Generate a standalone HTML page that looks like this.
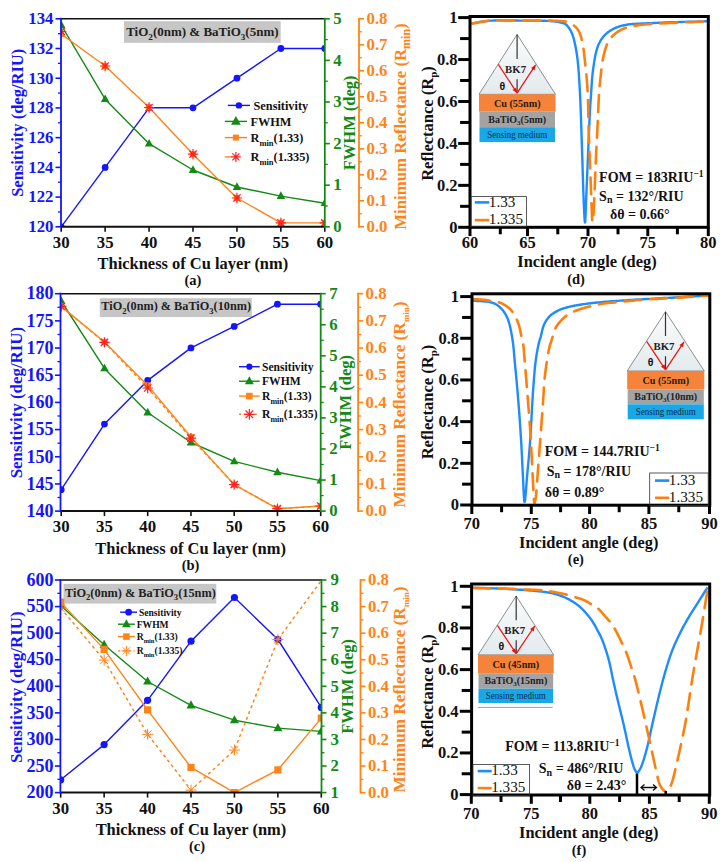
<!DOCTYPE html>
<html><head><meta charset="utf-8"><style>html,body{margin:0;padding:0;background:#fff;width:725px;height:862px;overflow:hidden}svg{display:block}</style></head><body>
<svg width="725" height="862" viewBox="0 0 725 862" style="font-family:'Liberation Serif',serif;font-weight:bold">
<defs><linearGradient id="prismg" x1="0" y1="0" x2="0" y2="1"><stop offset="0" stop-color="#fbfcfc"/><stop offset="1" stop-color="#e3eaed"/></linearGradient></defs>
<rect width="725" height="862" fill="#fff"/>
<rect x="124" y="21.2" width="156.7" height="21.6" fill="#c6c6c6"/>
<text x="126.2" y="35.6" font-size="13" fill="#222" font-weight="bold">TiO<tspan font-size="9.1" dy="3.9">2</tspan><tspan dy="-3.9">(0nm) &amp; BaTiO</tspan><tspan font-size="9.1" dy="3.9">3</tspan><tspan dy="-3.9">(5nm)</tspan></text>
<clipPath id="clipa"><rect x="61" y="18.8" width="263.8" height="208"/></clipPath>
<g clip-path="url(#clipa)">
<polyline points="61.2,226.8 105.13,167.4 149.07,107.8 193,107.8 236.93,78.2 280.87,48.5 324.8,48.5" fill="none" stroke="#1414ff" stroke-width="1.4" stroke-linejoin="round" />
<circle cx="61.2" cy="226.8" r="3.4" fill="#1414ff"/>
<circle cx="105.13" cy="167.4" r="3.4" fill="#1414ff"/>
<circle cx="149.07" cy="107.8" r="3.4" fill="#1414ff"/>
<circle cx="193" cy="107.8" r="3.4" fill="#1414ff"/>
<circle cx="236.93" cy="78.2" r="3.4" fill="#1414ff"/>
<circle cx="280.87" cy="48.5" r="3.4" fill="#1414ff"/>
<circle cx="324.8" cy="48.5" r="3.4" fill="#1414ff"/>
<polyline points="61.2,25 105.13,99.2 149.07,143.7 193,170 236.93,187 280.87,196.1 324.8,203.2" fill="none" stroke="#138a13" stroke-width="1.4" stroke-linejoin="round" />
<polygon points="61.2,20.26 56.95,27.91 65.45,27.91" fill="#138a13"/>
<polygon points="105.13,94.46 100.88,102.11 109.38,102.11" fill="#138a13"/>
<polygon points="149.07,138.96 144.82,146.61 153.32,146.61" fill="#138a13"/>
<polygon points="193,165.26 188.75,172.91 197.25,172.91" fill="#138a13"/>
<polygon points="236.93,182.26 232.68,189.91 241.18,189.91" fill="#138a13"/>
<polygon points="280.87,191.36 276.62,199.01 285.12,199.01" fill="#138a13"/>
<polygon points="324.8,198.46 320.55,206.11 329.05,206.11" fill="#138a13"/>
<polyline points="61.2,34.1 105.13,66 149.07,107.5 193,154.2 236.93,198 280.87,222.9 324.8,222.9" fill="none" stroke="#ff8418" stroke-width="1.4" stroke-linejoin="round" />
<rect x="58.1" y="31" width="6.2" height="6.2" fill="#ff8418"/>
<rect x="102.03" y="62.9" width="6.2" height="6.2" fill="#ff8418"/>
<rect x="145.97" y="104.4" width="6.2" height="6.2" fill="#ff8418"/>
<rect x="189.9" y="151.1" width="6.2" height="6.2" fill="#ff8418"/>
<rect x="233.83" y="194.9" width="6.2" height="6.2" fill="#ff8418"/>
<rect x="277.77" y="219.8" width="6.2" height="6.2" fill="#ff8418"/>
<rect x="321.7" y="219.8" width="6.2" height="6.2" fill="#ff8418"/>
<path d="M56,31.5L66.4,31.5M57.52,27.82L64.88,35.18M61.2,26.3L61.2,36.7M64.88,27.82L57.52,35.18" stroke="#ff2020" stroke-width="1.2" fill="none"/>
<path d="M99.93,66L110.33,66M101.46,62.32L108.81,69.68M105.13,60.8L105.13,71.2M108.81,62.32L101.46,69.68" stroke="#ff2020" stroke-width="1.2" fill="none"/>
<path d="M143.87,107.5L154.27,107.5M145.39,103.82L152.74,111.18M149.07,102.3L149.07,112.7M152.74,103.82L145.39,111.18" stroke="#ff2020" stroke-width="1.2" fill="none"/>
<path d="M187.8,154.2L198.2,154.2M189.32,150.52L196.68,157.88M193,149L193,159.4M196.68,150.52L189.32,157.88" stroke="#ff2020" stroke-width="1.2" fill="none"/>
<path d="M231.73,198L242.13,198M233.26,194.32L240.61,201.68M236.93,192.8L236.93,203.2M240.61,194.32L233.26,201.68" stroke="#ff2020" stroke-width="1.2" fill="none"/>
<path d="M275.67,222.9L286.07,222.9M277.19,219.22L284.54,226.58M280.87,217.7L280.87,228.1M284.54,219.22L277.19,226.58" stroke="#ff2020" stroke-width="1.2" fill="none"/>
<path d="M319.6,222.9L330,222.9M321.12,219.22L328.48,226.58M324.8,217.7L324.8,228.1M328.48,219.22L321.12,226.58" stroke="#ff2020" stroke-width="1.2" fill="none"/>
</g>
<line x1="61" y1="18.8" x2="324.8" y2="18.8" stroke="#111" stroke-width="1.6" />
<line x1="61" y1="226.8" x2="324.8" y2="226.8" stroke="#111" stroke-width="2" />
<line x1="61.2" y1="226.8" x2="61.2" y2="231.8" stroke="#111" stroke-width="1.6" />
<text x="61.2" y="248.1" font-size="16.8" fill="#111" text-anchor="middle" font-weight="bold" >30</text>
<line x1="105.13" y1="226.8" x2="105.13" y2="231.8" stroke="#111" stroke-width="1.6" />
<text x="105.13" y="248.1" font-size="16.8" fill="#111" text-anchor="middle" font-weight="bold" >35</text>
<line x1="149.07" y1="226.8" x2="149.07" y2="231.8" stroke="#111" stroke-width="1.6" />
<text x="149.07" y="248.1" font-size="16.8" fill="#111" text-anchor="middle" font-weight="bold" >40</text>
<line x1="193" y1="226.8" x2="193" y2="231.8" stroke="#111" stroke-width="1.6" />
<text x="193" y="248.1" font-size="16.8" fill="#111" text-anchor="middle" font-weight="bold" >45</text>
<line x1="236.93" y1="226.8" x2="236.93" y2="231.8" stroke="#111" stroke-width="1.6" />
<text x="236.93" y="248.1" font-size="16.8" fill="#111" text-anchor="middle" font-weight="bold" >50</text>
<line x1="280.87" y1="226.8" x2="280.87" y2="231.8" stroke="#111" stroke-width="1.6" />
<text x="280.87" y="248.1" font-size="16.8" fill="#111" text-anchor="middle" font-weight="bold" >55</text>
<line x1="324.8" y1="226.8" x2="324.8" y2="231.8" stroke="#111" stroke-width="1.6" />
<text x="324.8" y="248.1" font-size="16.8" fill="#111" text-anchor="middle" font-weight="bold" >60</text>
<line x1="61" y1="17.8" x2="61" y2="227.8" stroke="#1414ff" stroke-width="1.8" />
<line x1="55.5" y1="226.8" x2="61" y2="226.8" stroke="#1414ff" stroke-width="1.6" />
<text x="53.5" y="232.18" font-size="16.8" fill="#1414ff" text-anchor="end" font-weight="bold" >120</text>
<line x1="55.5" y1="197.09" x2="61" y2="197.09" stroke="#1414ff" stroke-width="1.6" />
<text x="53.5" y="202.46" font-size="16.8" fill="#1414ff" text-anchor="end" font-weight="bold" >122</text>
<line x1="55.5" y1="167.37" x2="61" y2="167.37" stroke="#1414ff" stroke-width="1.6" />
<text x="53.5" y="172.75" font-size="16.8" fill="#1414ff" text-anchor="end" font-weight="bold" >124</text>
<line x1="55.5" y1="137.66" x2="61" y2="137.66" stroke="#1414ff" stroke-width="1.6" />
<text x="53.5" y="143.03" font-size="16.8" fill="#1414ff" text-anchor="end" font-weight="bold" >126</text>
<line x1="55.5" y1="107.94" x2="61" y2="107.94" stroke="#1414ff" stroke-width="1.6" />
<text x="53.5" y="113.32" font-size="16.8" fill="#1414ff" text-anchor="end" font-weight="bold" >128</text>
<line x1="55.5" y1="78.23" x2="61" y2="78.23" stroke="#1414ff" stroke-width="1.6" />
<text x="53.5" y="83.6" font-size="16.8" fill="#1414ff" text-anchor="end" font-weight="bold" >130</text>
<line x1="55.5" y1="48.51" x2="61" y2="48.51" stroke="#1414ff" stroke-width="1.6" />
<text x="53.5" y="53.89" font-size="16.8" fill="#1414ff" text-anchor="end" font-weight="bold" >132</text>
<line x1="55.5" y1="18.8" x2="61" y2="18.8" stroke="#1414ff" stroke-width="1.6" />
<text x="53.5" y="24.18" font-size="16.8" fill="#1414ff" text-anchor="end" font-weight="bold" >134</text>
<line x1="58" y1="211.94" x2="61" y2="211.94" stroke="#1414ff" stroke-width="1.3" />
<line x1="58" y1="182.23" x2="61" y2="182.23" stroke="#1414ff" stroke-width="1.3" />
<line x1="58" y1="152.51" x2="61" y2="152.51" stroke="#1414ff" stroke-width="1.3" />
<line x1="58" y1="122.8" x2="61" y2="122.8" stroke="#1414ff" stroke-width="1.3" />
<line x1="58" y1="93.09" x2="61" y2="93.09" stroke="#1414ff" stroke-width="1.3" />
<line x1="58" y1="63.37" x2="61" y2="63.37" stroke="#1414ff" stroke-width="1.3" />
<line x1="58" y1="33.66" x2="61" y2="33.66" stroke="#1414ff" stroke-width="1.3" />
<line x1="324.8" y1="17.8" x2="324.8" y2="227.8" stroke="#138a13" stroke-width="1.8" />
<line x1="324.8" y1="226.8" x2="329.8" y2="226.8" stroke="#138a13" stroke-width="1.6" />
<text x="333.2" y="232" font-size="16.8" fill="#138a13" text-anchor="start" font-weight="bold" >0</text>
<line x1="324.8" y1="185.2" x2="329.8" y2="185.2" stroke="#138a13" stroke-width="1.6" />
<text x="333.2" y="190.4" font-size="16.8" fill="#138a13" text-anchor="start" font-weight="bold" >1</text>
<line x1="324.8" y1="143.6" x2="329.8" y2="143.6" stroke="#138a13" stroke-width="1.6" />
<text x="333.2" y="148.8" font-size="16.8" fill="#138a13" text-anchor="start" font-weight="bold" >2</text>
<line x1="324.8" y1="102" x2="329.8" y2="102" stroke="#138a13" stroke-width="1.6" />
<text x="333.2" y="107.2" font-size="16.8" fill="#138a13" text-anchor="start" font-weight="bold" >3</text>
<line x1="324.8" y1="60.4" x2="329.8" y2="60.4" stroke="#138a13" stroke-width="1.6" />
<text x="333.2" y="65.6" font-size="16.8" fill="#138a13" text-anchor="start" font-weight="bold" >4</text>
<line x1="324.8" y1="18.8" x2="329.8" y2="18.8" stroke="#138a13" stroke-width="1.6" />
<text x="333.2" y="24" font-size="16.8" fill="#138a13" text-anchor="start" font-weight="bold" >5</text>
<line x1="324.8" y1="206" x2="327.8" y2="206" stroke="#138a13" stroke-width="1.3" />
<line x1="324.8" y1="164.4" x2="327.8" y2="164.4" stroke="#138a13" stroke-width="1.3" />
<line x1="324.8" y1="122.8" x2="327.8" y2="122.8" stroke="#138a13" stroke-width="1.3" />
<line x1="324.8" y1="81.2" x2="327.8" y2="81.2" stroke="#138a13" stroke-width="1.3" />
<line x1="324.8" y1="39.6" x2="327.8" y2="39.6" stroke="#138a13" stroke-width="1.3" />
<line x1="359" y1="17.8" x2="359" y2="227.8" stroke="#ff8418" stroke-width="1.8" />
<line x1="359" y1="226.8" x2="364" y2="226.8" stroke="#ff8418" stroke-width="1.6" />
<text x="366.5" y="232" font-size="16.8" fill="#ff8418" text-anchor="start" font-weight="bold" >0.0</text>
<line x1="359" y1="200.8" x2="364" y2="200.8" stroke="#ff8418" stroke-width="1.6" />
<text x="366.5" y="206" font-size="16.8" fill="#ff8418" text-anchor="start" font-weight="bold" >0.1</text>
<line x1="359" y1="174.8" x2="364" y2="174.8" stroke="#ff8418" stroke-width="1.6" />
<text x="366.5" y="180" font-size="16.8" fill="#ff8418" text-anchor="start" font-weight="bold" >0.2</text>
<line x1="359" y1="148.8" x2="364" y2="148.8" stroke="#ff8418" stroke-width="1.6" />
<text x="366.5" y="154" font-size="16.8" fill="#ff8418" text-anchor="start" font-weight="bold" >0.3</text>
<line x1="359" y1="122.8" x2="364" y2="122.8" stroke="#ff8418" stroke-width="1.6" />
<text x="366.5" y="128" font-size="16.8" fill="#ff8418" text-anchor="start" font-weight="bold" >0.4</text>
<line x1="359" y1="96.8" x2="364" y2="96.8" stroke="#ff8418" stroke-width="1.6" />
<text x="366.5" y="102" font-size="16.8" fill="#ff8418" text-anchor="start" font-weight="bold" >0.5</text>
<line x1="359" y1="70.8" x2="364" y2="70.8" stroke="#ff8418" stroke-width="1.6" />
<text x="366.5" y="76" font-size="16.8" fill="#ff8418" text-anchor="start" font-weight="bold" >0.6</text>
<line x1="359" y1="44.8" x2="364" y2="44.8" stroke="#ff8418" stroke-width="1.6" />
<text x="366.5" y="50" font-size="16.8" fill="#ff8418" text-anchor="start" font-weight="bold" >0.7</text>
<line x1="359" y1="18.8" x2="364" y2="18.8" stroke="#ff8418" stroke-width="1.6" />
<text x="366.5" y="24" font-size="16.8" fill="#ff8418" text-anchor="start" font-weight="bold" >0.8</text>
<line x1="359" y1="213.8" x2="362" y2="213.8" stroke="#ff8418" stroke-width="1.3" />
<line x1="359" y1="187.8" x2="362" y2="187.8" stroke="#ff8418" stroke-width="1.3" />
<line x1="359" y1="161.8" x2="362" y2="161.8" stroke="#ff8418" stroke-width="1.3" />
<line x1="359" y1="135.8" x2="362" y2="135.8" stroke="#ff8418" stroke-width="1.3" />
<line x1="359" y1="109.8" x2="362" y2="109.8" stroke="#ff8418" stroke-width="1.3" />
<line x1="359" y1="83.8" x2="362" y2="83.8" stroke="#ff8418" stroke-width="1.3" />
<line x1="359" y1="57.8" x2="362" y2="57.8" stroke="#ff8418" stroke-width="1.3" />
<line x1="359" y1="31.8" x2="362" y2="31.8" stroke="#ff8418" stroke-width="1.3" />
<text x="23.3" y="122.8" font-size="16.5" fill="#1414ff" font-weight="bold" text-anchor="middle" transform="rotate(-90 23.3 122.8)">Sensitivity (deg/RIU)</text>
<text x="355.5" y="122.8" font-size="16.5" fill="#138a13" font-weight="bold" text-anchor="middle" transform="rotate(-90 355.5 122.8)">FWHM (deg)</text>
<text x="405.5" y="126.5" font-size="16.8" fill="#ff8418" font-weight="bold" text-anchor="middle" transform="rotate(-90 405.5 126.5)">Minimum Reflectance (R<tspan font-size="12" dy="4">min</tspan><tspan dy="-4">)</tspan></text>
<text x="192.9" y="269.3" font-size="16.45" fill="#111" text-anchor="middle" font-weight="bold" >Thickness of Cu layer (nm)</text>
<text x="192.9" y="285.3" font-size="14.5" fill="#111" text-anchor="middle" font-weight="bold" >(a)</text>
<line x1="227.8" y1="105.4" x2="250" y2="105.4" stroke="#1414ff" stroke-width="1.4" />
<circle cx="238.9" cy="105.4" r="3.2" fill="#1414ff"/>
<line x1="224.8" y1="121.4" x2="247" y2="121.4" stroke="#138a13" stroke-width="1.4" />
<polygon points="235.9,115.99 231.05,124.72 240.75,124.72" fill="#138a13"/>
<line x1="224.8" y1="137.6" x2="247" y2="137.6" stroke="#ff8418" stroke-width="1.4" />
<rect x="232.9" y="134.6" width="6" height="6" fill="#ff8418"/>
<line x1="224.8" y1="156.9" x2="231.4" y2="156.9" stroke="#ff8418" stroke-width="1.4" />
<path d="M230.9,156.9L240.9,156.9M232.36,153.36L239.44,160.44M235.9,151.9L235.9,161.9M239.44,153.36L232.36,160.44" stroke="#ff2020" stroke-width="1.2" fill="none"/>
<text x="253.5" y="109.83" font-size="12.3" fill="#111" text-anchor="start" font-weight="bold" >Sensitivity</text>
<text x="250.5" y="125.83" font-size="12.3" fill="#111" text-anchor="start" font-weight="bold" >FWHM</text>
<text x="250.5" y="142.03" font-size="12.3" fill="#111" font-weight="bold">R<tspan font-size="8.5" dy="3.69">min</tspan><tspan dy="-3.69">(1.33)</tspan></text>
<text x="250.5" y="161.33" font-size="12.3" fill="#111" font-weight="bold">R<tspan font-size="8.5" dy="3.69">min</tspan><tspan dy="-3.69">(1.335)</tspan></text>
<rect x="99.8" y="298.2" width="152" height="18.8" fill="#c6c6c6"/>
<text x="101.3" y="310.2" font-size="12.25" fill="#222" font-weight="bold">TiO<tspan font-size="8.57" dy="3.67">2</tspan><tspan dy="-3.67">(0nm) &amp; BaTiO</tspan><tspan font-size="8.57" dy="3.67">3</tspan><tspan dy="-3.67">(10nm)</tspan></text>
<clipPath id="clipb"><rect x="60.5" y="293.7" width="260.2" height="217.4"/></clipPath>
<g clip-path="url(#clipb)">
<polyline points="61.2,489.7 104.45,424.1 147.7,380.4 190.95,347.9 234.2,326.4 277.45,304.2 320.7,304.2" fill="none" stroke="#1414ff" stroke-width="1.4" stroke-linejoin="round" />
<circle cx="61.2" cy="489.7" r="3.4" fill="#1414ff"/>
<circle cx="104.45" cy="424.1" r="3.4" fill="#1414ff"/>
<circle cx="147.7" cy="380.4" r="3.4" fill="#1414ff"/>
<circle cx="190.95" cy="347.9" r="3.4" fill="#1414ff"/>
<circle cx="234.2" cy="326.4" r="3.4" fill="#1414ff"/>
<circle cx="277.45" cy="304.2" r="3.4" fill="#1414ff"/>
<circle cx="320.7" cy="304.2" r="3.4" fill="#1414ff"/>
<polyline points="61.2,301 104.45,368.4 147.7,412.5 190.95,442.5 234.2,461.4 277.45,472.3 320.7,480.6" fill="none" stroke="#138a13" stroke-width="1.4" stroke-linejoin="round" />
<polygon points="61.2,296.26 56.95,303.91 65.45,303.91" fill="#138a13"/>
<polygon points="104.45,363.66 100.2,371.31 108.7,371.31" fill="#138a13"/>
<polygon points="147.7,407.76 143.45,415.41 151.95,415.41" fill="#138a13"/>
<polygon points="190.95,437.76 186.7,445.41 195.2,445.41" fill="#138a13"/>
<polygon points="234.2,456.66 229.95,464.31 238.45,464.31" fill="#138a13"/>
<polygon points="277.45,467.56 273.2,475.21 281.7,475.21" fill="#138a13"/>
<polygon points="320.7,475.86 316.45,483.51 324.95,483.51" fill="#138a13"/>
<polyline points="61.2,306.4 104.45,342 147.7,385.4 190.95,437 234.2,484.6 277.45,508.7 320.7,506" fill="none" stroke="#ff8418" stroke-width="1.4" stroke-linejoin="round" />
<rect x="58.1" y="303.3" width="6.2" height="6.2" fill="#ff8418"/>
<rect x="101.35" y="338.9" width="6.2" height="6.2" fill="#ff8418"/>
<rect x="144.6" y="382.3" width="6.2" height="6.2" fill="#ff8418"/>
<rect x="187.85" y="433.9" width="6.2" height="6.2" fill="#ff8418"/>
<rect x="231.1" y="481.5" width="6.2" height="6.2" fill="#ff8418"/>
<rect x="274.35" y="505.6" width="6.2" height="6.2" fill="#ff8418"/>
<rect x="317.6" y="502.9" width="6.2" height="6.2" fill="#ff8418"/>
<polyline points="61.2,306.4 104.45,342.4 147.7,388 190.95,438.2 234.2,484.6 277.45,508.7 320.7,506" fill="none" stroke="#ff8418" stroke-width="1.5" stroke-linejoin="round" stroke-dasharray="3,3.2"/>
<path d="M56,306.4L66.4,306.4M57.52,302.72L64.88,310.08M61.2,301.2L61.2,311.6M64.88,302.72L57.52,310.08" stroke="#ff2020" stroke-width="1.2" fill="none"/>
<path d="M99.25,342.4L109.65,342.4M100.77,338.72L108.13,346.08M104.45,337.2L104.45,347.6M108.13,338.72L100.77,346.08" stroke="#ff2020" stroke-width="1.2" fill="none"/>
<path d="M142.5,388L152.9,388M144.02,384.32L151.38,391.68M147.7,382.8L147.7,393.2M151.38,384.32L144.02,391.68" stroke="#ff2020" stroke-width="1.2" fill="none"/>
<path d="M185.75,438.2L196.15,438.2M187.27,434.52L194.63,441.88M190.95,433L190.95,443.4M194.63,434.52L187.27,441.88" stroke="#ff2020" stroke-width="1.2" fill="none"/>
<path d="M229,484.6L239.4,484.6M230.52,480.92L237.88,488.28M234.2,479.4L234.2,489.8M237.88,480.92L230.52,488.28" stroke="#ff2020" stroke-width="1.2" fill="none"/>
<path d="M272.25,508.7L282.65,508.7M273.77,505.02L281.13,512.38M277.45,503.5L277.45,513.9M281.13,505.02L273.77,512.38" stroke="#ff2020" stroke-width="1.2" fill="none"/>
<path d="M315.5,506L325.9,506M317.02,502.32L324.38,509.68M320.7,500.8L320.7,511.2M324.38,502.32L317.02,509.68" stroke="#ff2020" stroke-width="1.2" fill="none"/>
</g>
<line x1="60.5" y1="293.7" x2="320.7" y2="293.7" stroke="#111" stroke-width="1.6" />
<line x1="60.5" y1="511.1" x2="320.7" y2="511.1" stroke="#111" stroke-width="2" />
<line x1="61.2" y1="511.1" x2="61.2" y2="516.1" stroke="#111" stroke-width="1.6" />
<text x="61.2" y="532.4" font-size="16.8" fill="#111" text-anchor="middle" font-weight="bold" >30</text>
<line x1="104.45" y1="511.1" x2="104.45" y2="516.1" stroke="#111" stroke-width="1.6" />
<text x="104.45" y="532.4" font-size="16.8" fill="#111" text-anchor="middle" font-weight="bold" >35</text>
<line x1="147.7" y1="511.1" x2="147.7" y2="516.1" stroke="#111" stroke-width="1.6" />
<text x="147.7" y="532.4" font-size="16.8" fill="#111" text-anchor="middle" font-weight="bold" >40</text>
<line x1="190.95" y1="511.1" x2="190.95" y2="516.1" stroke="#111" stroke-width="1.6" />
<text x="190.95" y="532.4" font-size="16.8" fill="#111" text-anchor="middle" font-weight="bold" >45</text>
<line x1="234.2" y1="511.1" x2="234.2" y2="516.1" stroke="#111" stroke-width="1.6" />
<text x="234.2" y="532.4" font-size="16.8" fill="#111" text-anchor="middle" font-weight="bold" >50</text>
<line x1="277.45" y1="511.1" x2="277.45" y2="516.1" stroke="#111" stroke-width="1.6" />
<text x="277.45" y="532.4" font-size="16.8" fill="#111" text-anchor="middle" font-weight="bold" >55</text>
<line x1="320.7" y1="511.1" x2="320.7" y2="516.1" stroke="#111" stroke-width="1.6" />
<text x="320.7" y="532.4" font-size="16.8" fill="#111" text-anchor="middle" font-weight="bold" >60</text>
<line x1="60.5" y1="292.7" x2="60.5" y2="512.1" stroke="#1414ff" stroke-width="1.8" />
<line x1="55" y1="511.1" x2="60.5" y2="511.1" stroke="#1414ff" stroke-width="1.6" />
<text x="53.5" y="516.86" font-size="18" fill="#1414ff" text-anchor="end" font-weight="bold" >140</text>
<line x1="55" y1="483.93" x2="60.5" y2="483.93" stroke="#1414ff" stroke-width="1.6" />
<text x="53.5" y="489.69" font-size="18" fill="#1414ff" text-anchor="end" font-weight="bold" >145</text>
<line x1="55" y1="456.75" x2="60.5" y2="456.75" stroke="#1414ff" stroke-width="1.6" />
<text x="53.5" y="462.51" font-size="18" fill="#1414ff" text-anchor="end" font-weight="bold" >150</text>
<line x1="55" y1="429.58" x2="60.5" y2="429.58" stroke="#1414ff" stroke-width="1.6" />
<text x="53.5" y="435.34" font-size="18" fill="#1414ff" text-anchor="end" font-weight="bold" >155</text>
<line x1="55" y1="402.4" x2="60.5" y2="402.4" stroke="#1414ff" stroke-width="1.6" />
<text x="53.5" y="408.16" font-size="18" fill="#1414ff" text-anchor="end" font-weight="bold" >160</text>
<line x1="55" y1="375.23" x2="60.5" y2="375.23" stroke="#1414ff" stroke-width="1.6" />
<text x="53.5" y="380.99" font-size="18" fill="#1414ff" text-anchor="end" font-weight="bold" >165</text>
<line x1="55" y1="348.05" x2="60.5" y2="348.05" stroke="#1414ff" stroke-width="1.6" />
<text x="53.5" y="353.81" font-size="18" fill="#1414ff" text-anchor="end" font-weight="bold" >170</text>
<line x1="55" y1="320.88" x2="60.5" y2="320.88" stroke="#1414ff" stroke-width="1.6" />
<text x="53.5" y="326.63" font-size="18" fill="#1414ff" text-anchor="end" font-weight="bold" >175</text>
<line x1="55" y1="293.7" x2="60.5" y2="293.7" stroke="#1414ff" stroke-width="1.6" />
<text x="53.5" y="299.46" font-size="18" fill="#1414ff" text-anchor="end" font-weight="bold" >180</text>
<line x1="57.5" y1="497.51" x2="60.5" y2="497.51" stroke="#1414ff" stroke-width="1.3" />
<line x1="57.5" y1="470.34" x2="60.5" y2="470.34" stroke="#1414ff" stroke-width="1.3" />
<line x1="57.5" y1="443.16" x2="60.5" y2="443.16" stroke="#1414ff" stroke-width="1.3" />
<line x1="57.5" y1="415.99" x2="60.5" y2="415.99" stroke="#1414ff" stroke-width="1.3" />
<line x1="57.5" y1="388.81" x2="60.5" y2="388.81" stroke="#1414ff" stroke-width="1.3" />
<line x1="57.5" y1="361.64" x2="60.5" y2="361.64" stroke="#1414ff" stroke-width="1.3" />
<line x1="57.5" y1="334.46" x2="60.5" y2="334.46" stroke="#1414ff" stroke-width="1.3" />
<line x1="57.5" y1="307.29" x2="60.5" y2="307.29" stroke="#1414ff" stroke-width="1.3" />
<line x1="320.7" y1="292.7" x2="320.7" y2="512.1" stroke="#138a13" stroke-width="1.8" />
<line x1="320.7" y1="511.1" x2="325.7" y2="511.1" stroke="#138a13" stroke-width="1.6" />
<text x="329.2" y="516.3" font-size="16.8" fill="#138a13" text-anchor="start" font-weight="bold" >0</text>
<line x1="320.7" y1="480.04" x2="325.7" y2="480.04" stroke="#138a13" stroke-width="1.6" />
<text x="329.2" y="485.24" font-size="16.8" fill="#138a13" text-anchor="start" font-weight="bold" >1</text>
<line x1="320.7" y1="448.99" x2="325.7" y2="448.99" stroke="#138a13" stroke-width="1.6" />
<text x="329.2" y="454.19" font-size="16.8" fill="#138a13" text-anchor="start" font-weight="bold" >2</text>
<line x1="320.7" y1="417.93" x2="325.7" y2="417.93" stroke="#138a13" stroke-width="1.6" />
<text x="329.2" y="423.13" font-size="16.8" fill="#138a13" text-anchor="start" font-weight="bold" >3</text>
<line x1="320.7" y1="386.87" x2="325.7" y2="386.87" stroke="#138a13" stroke-width="1.6" />
<text x="329.2" y="392.07" font-size="16.8" fill="#138a13" text-anchor="start" font-weight="bold" >4</text>
<line x1="320.7" y1="355.81" x2="325.7" y2="355.81" stroke="#138a13" stroke-width="1.6" />
<text x="329.2" y="361.01" font-size="16.8" fill="#138a13" text-anchor="start" font-weight="bold" >5</text>
<line x1="320.7" y1="324.76" x2="325.7" y2="324.76" stroke="#138a13" stroke-width="1.6" />
<text x="329.2" y="329.96" font-size="16.8" fill="#138a13" text-anchor="start" font-weight="bold" >6</text>
<line x1="320.7" y1="293.7" x2="325.7" y2="293.7" stroke="#138a13" stroke-width="1.6" />
<text x="329.2" y="298.9" font-size="16.8" fill="#138a13" text-anchor="start" font-weight="bold" >7</text>
<line x1="320.7" y1="495.57" x2="323.7" y2="495.57" stroke="#138a13" stroke-width="1.3" />
<line x1="320.7" y1="464.51" x2="323.7" y2="464.51" stroke="#138a13" stroke-width="1.3" />
<line x1="320.7" y1="433.46" x2="323.7" y2="433.46" stroke="#138a13" stroke-width="1.3" />
<line x1="320.7" y1="402.4" x2="323.7" y2="402.4" stroke="#138a13" stroke-width="1.3" />
<line x1="320.7" y1="371.34" x2="323.7" y2="371.34" stroke="#138a13" stroke-width="1.3" />
<line x1="320.7" y1="340.29" x2="323.7" y2="340.29" stroke="#138a13" stroke-width="1.3" />
<line x1="320.7" y1="309.23" x2="323.7" y2="309.23" stroke="#138a13" stroke-width="1.3" />
<line x1="358.1" y1="292.7" x2="358.1" y2="512.1" stroke="#ff8418" stroke-width="1.8" />
<line x1="358.1" y1="511.1" x2="363.1" y2="511.1" stroke="#ff8418" stroke-width="1.6" />
<text x="365.6" y="516.3" font-size="16.8" fill="#ff8418" text-anchor="start" font-weight="bold" >0.0</text>
<line x1="358.1" y1="483.93" x2="363.1" y2="483.93" stroke="#ff8418" stroke-width="1.6" />
<text x="365.6" y="489.12" font-size="16.8" fill="#ff8418" text-anchor="start" font-weight="bold" >0.1</text>
<line x1="358.1" y1="456.75" x2="363.1" y2="456.75" stroke="#ff8418" stroke-width="1.6" />
<text x="365.6" y="461.95" font-size="16.8" fill="#ff8418" text-anchor="start" font-weight="bold" >0.2</text>
<line x1="358.1" y1="429.58" x2="363.1" y2="429.58" stroke="#ff8418" stroke-width="1.6" />
<text x="365.6" y="434.78" font-size="16.8" fill="#ff8418" text-anchor="start" font-weight="bold" >0.3</text>
<line x1="358.1" y1="402.4" x2="363.1" y2="402.4" stroke="#ff8418" stroke-width="1.6" />
<text x="365.6" y="407.6" font-size="16.8" fill="#ff8418" text-anchor="start" font-weight="bold" >0.4</text>
<line x1="358.1" y1="375.23" x2="363.1" y2="375.23" stroke="#ff8418" stroke-width="1.6" />
<text x="365.6" y="380.43" font-size="16.8" fill="#ff8418" text-anchor="start" font-weight="bold" >0.5</text>
<line x1="358.1" y1="348.05" x2="363.1" y2="348.05" stroke="#ff8418" stroke-width="1.6" />
<text x="365.6" y="353.25" font-size="16.8" fill="#ff8418" text-anchor="start" font-weight="bold" >0.6</text>
<line x1="358.1" y1="320.88" x2="363.1" y2="320.88" stroke="#ff8418" stroke-width="1.6" />
<text x="365.6" y="326.07" font-size="16.8" fill="#ff8418" text-anchor="start" font-weight="bold" >0.7</text>
<line x1="358.1" y1="293.7" x2="363.1" y2="293.7" stroke="#ff8418" stroke-width="1.6" />
<text x="365.6" y="298.9" font-size="16.8" fill="#ff8418" text-anchor="start" font-weight="bold" >0.8</text>
<line x1="358.1" y1="497.51" x2="361.1" y2="497.51" stroke="#ff8418" stroke-width="1.3" />
<line x1="358.1" y1="470.34" x2="361.1" y2="470.34" stroke="#ff8418" stroke-width="1.3" />
<line x1="358.1" y1="443.16" x2="361.1" y2="443.16" stroke="#ff8418" stroke-width="1.3" />
<line x1="358.1" y1="415.99" x2="361.1" y2="415.99" stroke="#ff8418" stroke-width="1.3" />
<line x1="358.1" y1="388.81" x2="361.1" y2="388.81" stroke="#ff8418" stroke-width="1.3" />
<line x1="358.1" y1="361.64" x2="361.1" y2="361.64" stroke="#ff8418" stroke-width="1.3" />
<line x1="358.1" y1="334.46" x2="361.1" y2="334.46" stroke="#ff8418" stroke-width="1.3" />
<line x1="358.1" y1="307.29" x2="361.1" y2="307.29" stroke="#ff8418" stroke-width="1.3" />
<text x="21.8" y="402.6" font-size="16.9" fill="#1414ff" font-weight="bold" text-anchor="middle" transform="rotate(-90 21.8 402.6)">Sensitivity (deg/RIU)</text>
<text x="351.5" y="402.4" font-size="16.5" fill="#138a13" font-weight="bold" text-anchor="middle" transform="rotate(-90 351.5 402.4)">FWHM (deg)</text>
<text x="404.5" y="404.5" font-size="17.2" fill="#ff8418" font-weight="bold" text-anchor="middle" transform="rotate(-90 404.5 404.5)">Minimum Reflectance (R<tspan font-size="9" dy="4">min</tspan><tspan dy="-4">)</tspan></text>
<text x="190.6" y="553.6" font-size="16.45" fill="#111" text-anchor="middle" font-weight="bold" >Thickness of Cu layer (nm)</text>
<text x="190.6" y="569.6" font-size="14.5" fill="#111" text-anchor="middle" font-weight="bold" >(b)</text>
<line x1="239" y1="366.7" x2="259.7" y2="366.7" stroke="#1414ff" stroke-width="1.4" />
<circle cx="249.35" cy="366.7" r="3.1" fill="#1414ff"/>
<line x1="239" y1="381.2" x2="259.7" y2="381.2" stroke="#138a13" stroke-width="1.4" />
<polygon points="249.35,376.18 244.85,384.28 253.85,384.28" fill="#138a13"/>
<line x1="239" y1="396.1" x2="259.7" y2="396.1" stroke="#ff8418" stroke-width="1.4" />
<rect x="246.05" y="392.8" width="6.6" height="6.6" fill="#ff8418"/>
<line x1="239" y1="414.3" x2="259.7" y2="414.3" stroke="#ff8418" stroke-width="1.4" stroke-dasharray="2.2,3"/>
<path d="M243.95,414.3L254.75,414.3M245.53,410.48L253.17,418.12M249.35,408.9L249.35,419.7M253.17,410.48L245.53,418.12" stroke="#ff2020" stroke-width="1.2" fill="none"/>
<text x="262" y="370.88" font-size="11.6" fill="#111" text-anchor="start" font-weight="bold" >Sensitivity</text>
<text x="262" y="385.38" font-size="11.6" fill="#111" text-anchor="start" font-weight="bold" >FWHM</text>
<text x="262" y="400.28" font-size="11.6" fill="#111" font-weight="bold">R<tspan font-size="8" dy="3.48">min</tspan><tspan dy="-3.48">(1.33)</tspan></text>
<text x="262" y="418.48" font-size="11.6" fill="#111" font-weight="bold">R<tspan font-size="8" dy="3.48">min</tspan><tspan dy="-3.48">(1.335)</tspan></text>
<rect x="63.5" y="583.9" width="152.8" height="19.7" fill="#c6c6c6"/>
<text x="65" y="596.6" font-size="12.35" fill="#222" font-weight="bold">TiO<tspan font-size="8.64" dy="3.7">2</tspan><tspan dy="-3.7">(0nm) &amp; BaTiO</tspan><tspan font-size="8.64" dy="3.7">3</tspan><tspan dy="-3.7">(15nm)</tspan></text>
<clipPath id="clipc"><rect x="60.4" y="580" width="261.1" height="212.6"/></clipPath>
<g clip-path="url(#clipc)">
<polyline points="60.7,779.8 104.13,744.6 147.57,700.3 191,641.2 234.43,597.5 277.87,639.5 321.3,707.4" fill="none" stroke="#1414ff" stroke-width="1.4" stroke-linejoin="round" />
<circle cx="60.7" cy="779.8" r="3.6" fill="#1414ff"/>
<circle cx="104.13" cy="744.6" r="3.6" fill="#1414ff"/>
<circle cx="147.57" cy="700.3" r="3.6" fill="#1414ff"/>
<circle cx="191" cy="641.2" r="3.6" fill="#1414ff"/>
<circle cx="234.43" cy="597.5" r="3.6" fill="#1414ff"/>
<circle cx="277.87" cy="639.5" r="3.6" fill="#1414ff"/>
<circle cx="321.3" cy="707.4" r="3.6" fill="#1414ff"/>
<polyline points="60.7,605.5 104.13,644.8 147.57,681.5 191,705.3 234.43,720.2 277.87,728.1 321.3,731.4" fill="none" stroke="#138a13" stroke-width="1.4" stroke-linejoin="round" />
<polygon points="60.7,600.48 56.2,608.58 65.2,608.58" fill="#138a13"/>
<polygon points="104.13,639.78 99.63,647.88 108.63,647.88" fill="#138a13"/>
<polygon points="147.57,676.48 143.07,684.58 152.07,684.58" fill="#138a13"/>
<polygon points="191,700.28 186.5,708.38 195.5,708.38" fill="#138a13"/>
<polygon points="234.43,715.18 229.93,723.28 238.93,723.28" fill="#138a13"/>
<polygon points="277.87,723.08 273.37,731.18 282.37,731.18" fill="#138a13"/>
<polygon points="321.3,726.38 316.8,734.48 325.8,734.48" fill="#138a13"/>
<polyline points="60.7,602.1 104.13,649.4 147.57,709.9 191,767.4 234.43,792.6 277.87,769.9 321.3,718.1" fill="none" stroke="#ff8418" stroke-width="1.4" stroke-linejoin="round" />
<rect x="57.1" y="598.5" width="7.2" height="7.2" fill="#ff8418"/>
<rect x="100.53" y="645.8" width="7.2" height="7.2" fill="#ff8418"/>
<rect x="143.97" y="706.3" width="7.2" height="7.2" fill="#ff8418"/>
<rect x="187.4" y="763.8" width="7.2" height="7.2" fill="#ff8418"/>
<rect x="230.83" y="789" width="7.2" height="7.2" fill="#ff8418"/>
<rect x="274.27" y="766.3" width="7.2" height="7.2" fill="#ff8418"/>
<rect x="317.7" y="714.5" width="7.2" height="7.2" fill="#ff8418"/>
<polyline points="60.7,608 104.13,660.1 147.57,734.3 191,790.1 234.43,750 277.87,639.5 321.3,580.5" fill="none" stroke="#ff8418" stroke-width="1.5" stroke-linejoin="round" stroke-dasharray="3,3.2"/>
<path d="M55.2,608L66.2,608M56.81,604.11L64.59,611.89M60.7,602.5L60.7,613.5M64.59,604.11L56.81,611.89" stroke="#ff8418" stroke-width="1.0" fill="none"/>
<path d="M98.63,660.1L109.63,660.1M100.24,656.21L108.02,663.99M104.13,654.6L104.13,665.6M108.02,656.21L100.24,663.99" stroke="#ff8418" stroke-width="1.0" fill="none"/>
<path d="M142.07,734.3L153.07,734.3M143.68,730.41L151.46,738.19M147.57,728.8L147.57,739.8M151.46,730.41L143.68,738.19" stroke="#ff8418" stroke-width="1.0" fill="none"/>
<path d="M185.5,790.1L196.5,790.1M187.11,786.21L194.89,793.99M191,784.6L191,795.6M194.89,786.21L187.11,793.99" stroke="#ff8418" stroke-width="1.0" fill="none"/>
<path d="M228.93,750L239.93,750M230.54,746.11L238.32,753.89M234.43,744.5L234.43,755.5M238.32,746.11L230.54,753.89" stroke="#ff8418" stroke-width="1.0" fill="none"/>
<path d="M272.37,639.5L283.37,639.5M273.98,635.61L281.76,643.39M277.87,634L277.87,645M281.76,635.61L273.98,643.39" stroke="#ff8418" stroke-width="1.0" fill="none"/>
</g>
<line x1="60.4" y1="580" x2="321.5" y2="580" stroke="#111" stroke-width="1.6" />
<line x1="60.4" y1="792.6" x2="321.5" y2="792.6" stroke="#111" stroke-width="2" />
<line x1="60.7" y1="792.6" x2="60.7" y2="797.6" stroke="#111" stroke-width="1.6" />
<text x="60.7" y="813.9" font-size="16.8" fill="#111" text-anchor="middle" font-weight="bold" >30</text>
<line x1="104.13" y1="792.6" x2="104.13" y2="797.6" stroke="#111" stroke-width="1.6" />
<text x="104.13" y="813.9" font-size="16.8" fill="#111" text-anchor="middle" font-weight="bold" >35</text>
<line x1="147.57" y1="792.6" x2="147.57" y2="797.6" stroke="#111" stroke-width="1.6" />
<text x="147.57" y="813.9" font-size="16.8" fill="#111" text-anchor="middle" font-weight="bold" >40</text>
<line x1="191" y1="792.6" x2="191" y2="797.6" stroke="#111" stroke-width="1.6" />
<text x="191" y="813.9" font-size="16.8" fill="#111" text-anchor="middle" font-weight="bold" >45</text>
<line x1="234.43" y1="792.6" x2="234.43" y2="797.6" stroke="#111" stroke-width="1.6" />
<text x="234.43" y="813.9" font-size="16.8" fill="#111" text-anchor="middle" font-weight="bold" >50</text>
<line x1="277.87" y1="792.6" x2="277.87" y2="797.6" stroke="#111" stroke-width="1.6" />
<text x="277.87" y="813.9" font-size="16.8" fill="#111" text-anchor="middle" font-weight="bold" >55</text>
<line x1="321.3" y1="792.6" x2="321.3" y2="797.6" stroke="#111" stroke-width="1.6" />
<text x="321.3" y="813.9" font-size="16.8" fill="#111" text-anchor="middle" font-weight="bold" >60</text>
<line x1="60.4" y1="579" x2="60.4" y2="793.6" stroke="#1414ff" stroke-width="1.8" />
<line x1="54.9" y1="792.6" x2="60.4" y2="792.6" stroke="#1414ff" stroke-width="1.6" />
<text x="53.5" y="798.36" font-size="18" fill="#1414ff" text-anchor="end" font-weight="bold" >200</text>
<line x1="54.9" y1="766.02" x2="60.4" y2="766.02" stroke="#1414ff" stroke-width="1.6" />
<text x="53.5" y="771.78" font-size="18" fill="#1414ff" text-anchor="end" font-weight="bold" >250</text>
<line x1="54.9" y1="739.45" x2="60.4" y2="739.45" stroke="#1414ff" stroke-width="1.6" />
<text x="53.5" y="745.21" font-size="18" fill="#1414ff" text-anchor="end" font-weight="bold" >300</text>
<line x1="54.9" y1="712.88" x2="60.4" y2="712.88" stroke="#1414ff" stroke-width="1.6" />
<text x="53.5" y="718.63" font-size="18" fill="#1414ff" text-anchor="end" font-weight="bold" >350</text>
<line x1="54.9" y1="686.3" x2="60.4" y2="686.3" stroke="#1414ff" stroke-width="1.6" />
<text x="53.5" y="692.06" font-size="18" fill="#1414ff" text-anchor="end" font-weight="bold" >400</text>
<line x1="54.9" y1="659.73" x2="60.4" y2="659.73" stroke="#1414ff" stroke-width="1.6" />
<text x="53.5" y="665.49" font-size="18" fill="#1414ff" text-anchor="end" font-weight="bold" >450</text>
<line x1="54.9" y1="633.15" x2="60.4" y2="633.15" stroke="#1414ff" stroke-width="1.6" />
<text x="53.5" y="638.91" font-size="18" fill="#1414ff" text-anchor="end" font-weight="bold" >500</text>
<line x1="54.9" y1="606.58" x2="60.4" y2="606.58" stroke="#1414ff" stroke-width="1.6" />
<text x="53.5" y="612.34" font-size="18" fill="#1414ff" text-anchor="end" font-weight="bold" >550</text>
<line x1="54.9" y1="580" x2="60.4" y2="580" stroke="#1414ff" stroke-width="1.6" />
<text x="53.5" y="585.76" font-size="18" fill="#1414ff" text-anchor="end" font-weight="bold" >600</text>
<line x1="57.4" y1="779.31" x2="60.4" y2="779.31" stroke="#1414ff" stroke-width="1.3" />
<line x1="57.4" y1="752.74" x2="60.4" y2="752.74" stroke="#1414ff" stroke-width="1.3" />
<line x1="57.4" y1="726.16" x2="60.4" y2="726.16" stroke="#1414ff" stroke-width="1.3" />
<line x1="57.4" y1="699.59" x2="60.4" y2="699.59" stroke="#1414ff" stroke-width="1.3" />
<line x1="57.4" y1="673.01" x2="60.4" y2="673.01" stroke="#1414ff" stroke-width="1.3" />
<line x1="57.4" y1="646.44" x2="60.4" y2="646.44" stroke="#1414ff" stroke-width="1.3" />
<line x1="57.4" y1="619.86" x2="60.4" y2="619.86" stroke="#1414ff" stroke-width="1.3" />
<line x1="57.4" y1="593.29" x2="60.4" y2="593.29" stroke="#1414ff" stroke-width="1.3" />
<line x1="321.5" y1="579" x2="321.5" y2="793.6" stroke="#138a13" stroke-width="1.8" />
<line x1="321.5" y1="792.6" x2="326.5" y2="792.6" stroke="#138a13" stroke-width="1.6" />
<text x="330.5" y="797.8" font-size="16.8" fill="#138a13" text-anchor="start" font-weight="bold" >1</text>
<line x1="321.5" y1="766.02" x2="326.5" y2="766.02" stroke="#138a13" stroke-width="1.6" />
<text x="330.5" y="771.23" font-size="16.8" fill="#138a13" text-anchor="start" font-weight="bold" >2</text>
<line x1="321.5" y1="739.45" x2="326.5" y2="739.45" stroke="#138a13" stroke-width="1.6" />
<text x="330.5" y="744.65" font-size="16.8" fill="#138a13" text-anchor="start" font-weight="bold" >3</text>
<line x1="321.5" y1="712.88" x2="326.5" y2="712.88" stroke="#138a13" stroke-width="1.6" />
<text x="330.5" y="718.08" font-size="16.8" fill="#138a13" text-anchor="start" font-weight="bold" >4</text>
<line x1="321.5" y1="686.3" x2="326.5" y2="686.3" stroke="#138a13" stroke-width="1.6" />
<text x="330.5" y="691.5" font-size="16.8" fill="#138a13" text-anchor="start" font-weight="bold" >5</text>
<line x1="321.5" y1="659.73" x2="326.5" y2="659.73" stroke="#138a13" stroke-width="1.6" />
<text x="330.5" y="664.93" font-size="16.8" fill="#138a13" text-anchor="start" font-weight="bold" >6</text>
<line x1="321.5" y1="633.15" x2="326.5" y2="633.15" stroke="#138a13" stroke-width="1.6" />
<text x="330.5" y="638.35" font-size="16.8" fill="#138a13" text-anchor="start" font-weight="bold" >7</text>
<line x1="321.5" y1="606.58" x2="326.5" y2="606.58" stroke="#138a13" stroke-width="1.6" />
<text x="330.5" y="611.78" font-size="16.8" fill="#138a13" text-anchor="start" font-weight="bold" >8</text>
<line x1="321.5" y1="580" x2="326.5" y2="580" stroke="#138a13" stroke-width="1.6" />
<text x="330.5" y="585.2" font-size="16.8" fill="#138a13" text-anchor="start" font-weight="bold" >9</text>
<line x1="321.5" y1="779.31" x2="324.5" y2="779.31" stroke="#138a13" stroke-width="1.3" />
<line x1="321.5" y1="752.74" x2="324.5" y2="752.74" stroke="#138a13" stroke-width="1.3" />
<line x1="321.5" y1="726.16" x2="324.5" y2="726.16" stroke="#138a13" stroke-width="1.3" />
<line x1="321.5" y1="699.59" x2="324.5" y2="699.59" stroke="#138a13" stroke-width="1.3" />
<line x1="321.5" y1="673.01" x2="324.5" y2="673.01" stroke="#138a13" stroke-width="1.3" />
<line x1="321.5" y1="646.44" x2="324.5" y2="646.44" stroke="#138a13" stroke-width="1.3" />
<line x1="321.5" y1="619.86" x2="324.5" y2="619.86" stroke="#138a13" stroke-width="1.3" />
<line x1="321.5" y1="593.29" x2="324.5" y2="593.29" stroke="#138a13" stroke-width="1.3" />
<line x1="360.5" y1="579" x2="360.5" y2="793.6" stroke="#ff8418" stroke-width="1.8" />
<line x1="360.5" y1="792.6" x2="365.5" y2="792.6" stroke="#ff8418" stroke-width="1.6" />
<text x="368" y="797.8" font-size="16.8" fill="#ff8418" text-anchor="start" font-weight="bold" >0.0</text>
<line x1="360.5" y1="766.02" x2="365.5" y2="766.02" stroke="#ff8418" stroke-width="1.6" />
<text x="368" y="771.23" font-size="16.8" fill="#ff8418" text-anchor="start" font-weight="bold" >0.1</text>
<line x1="360.5" y1="739.45" x2="365.5" y2="739.45" stroke="#ff8418" stroke-width="1.6" />
<text x="368" y="744.65" font-size="16.8" fill="#ff8418" text-anchor="start" font-weight="bold" >0.2</text>
<line x1="360.5" y1="712.88" x2="365.5" y2="712.88" stroke="#ff8418" stroke-width="1.6" />
<text x="368" y="718.08" font-size="16.8" fill="#ff8418" text-anchor="start" font-weight="bold" >0.3</text>
<line x1="360.5" y1="686.3" x2="365.5" y2="686.3" stroke="#ff8418" stroke-width="1.6" />
<text x="368" y="691.5" font-size="16.8" fill="#ff8418" text-anchor="start" font-weight="bold" >0.4</text>
<line x1="360.5" y1="659.73" x2="365.5" y2="659.73" stroke="#ff8418" stroke-width="1.6" />
<text x="368" y="664.93" font-size="16.8" fill="#ff8418" text-anchor="start" font-weight="bold" >0.5</text>
<line x1="360.5" y1="633.15" x2="365.5" y2="633.15" stroke="#ff8418" stroke-width="1.6" />
<text x="368" y="638.35" font-size="16.8" fill="#ff8418" text-anchor="start" font-weight="bold" >0.6</text>
<line x1="360.5" y1="606.58" x2="365.5" y2="606.58" stroke="#ff8418" stroke-width="1.6" />
<text x="368" y="611.78" font-size="16.8" fill="#ff8418" text-anchor="start" font-weight="bold" >0.7</text>
<line x1="360.5" y1="580" x2="365.5" y2="580" stroke="#ff8418" stroke-width="1.6" />
<text x="368" y="585.2" font-size="16.8" fill="#ff8418" text-anchor="start" font-weight="bold" >0.8</text>
<line x1="360.5" y1="779.31" x2="363.5" y2="779.31" stroke="#ff8418" stroke-width="1.3" />
<line x1="360.5" y1="752.74" x2="363.5" y2="752.74" stroke="#ff8418" stroke-width="1.3" />
<line x1="360.5" y1="726.16" x2="363.5" y2="726.16" stroke="#ff8418" stroke-width="1.3" />
<line x1="360.5" y1="699.59" x2="363.5" y2="699.59" stroke="#ff8418" stroke-width="1.3" />
<line x1="360.5" y1="673.01" x2="363.5" y2="673.01" stroke="#ff8418" stroke-width="1.3" />
<line x1="360.5" y1="646.44" x2="363.5" y2="646.44" stroke="#ff8418" stroke-width="1.3" />
<line x1="360.5" y1="619.86" x2="363.5" y2="619.86" stroke="#ff8418" stroke-width="1.3" />
<line x1="360.5" y1="593.29" x2="363.5" y2="593.29" stroke="#ff8418" stroke-width="1.3" />
<text x="21.8" y="687.2" font-size="16.9" fill="#1414ff" font-weight="bold" text-anchor="middle" transform="rotate(-90 21.8 687.2)">Sensitivity (deg/RIU)</text>
<text x="353" y="686.3" font-size="16.5" fill="#138a13" font-weight="bold" text-anchor="middle" transform="rotate(-90 353 686.3)">FWHM (deg)</text>
<text x="405" y="689.5" font-size="17.2" fill="#ff8418" font-weight="bold" text-anchor="middle" transform="rotate(-90 405 689.5)">Minimum Reflectance (R<tspan font-size="9" dy="4">min</tspan><tspan dy="-4">)</tspan></text>
<text x="190.95" y="835.1" font-size="16.45" fill="#111" text-anchor="middle" font-weight="bold" >Thickness of Cu layer (nm)</text>
<text x="196.95" y="850.6" font-size="14.5" fill="#111" text-anchor="middle" font-weight="bold" >(c)</text>
<line x1="120.2" y1="612.2" x2="137" y2="612.2" stroke="#1414ff" stroke-width="1.4" />
<circle cx="128.6" cy="612.2" r="3.4" fill="#1414ff"/>
<line x1="118" y1="624.2" x2="134.8" y2="624.2" stroke="#138a13" stroke-width="1.4" />
<polygon points="126.4,619.35 122.05,627.18 130.75,627.18" fill="#138a13"/>
<line x1="118" y1="636.6" x2="134.8" y2="636.6" stroke="#ff8418" stroke-width="1.4" />
<rect x="123.15" y="633.35" width="6.5" height="6.5" fill="#ff8418"/>
<line x1="118" y1="650.9" x2="134.8" y2="650.9" stroke="#ff8418" stroke-width="1.4" stroke-dasharray="2.2,3"/>
<path d="M121.4,650.9L131.4,650.9M122.86,647.36L129.94,654.44M126.4,645.9L126.4,655.9M129.94,647.36L122.86,654.44" stroke="#ff8418" stroke-width="1.0" fill="none"/>
<text x="138.9" y="615.66" font-size="9.6" fill="#111" text-anchor="start" font-weight="bold" >Sensitivity</text>
<text x="136.7" y="627.66" font-size="9.6" fill="#111" text-anchor="start" font-weight="bold" >FWHM</text>
<text x="136.7" y="640.06" font-size="9.6" fill="#111" font-weight="bold">R<tspan font-size="6.5" dy="2.88">min</tspan><tspan dy="-2.88">(1.33)</tspan></text>
<text x="136.7" y="654.36" font-size="9.6" fill="#111" font-weight="bold">R<tspan font-size="6.5" dy="2.88">min</tspan><tspan dy="-2.88">(1.335)</tspan></text>
<path d="M472.00,23.50 L473.66,23.22 L475.28,22.93 L476.87,22.62 L478.47,22.32 L480.07,22.01 L481.70,21.72 L483.37,21.45 L485.10,21.20 L486.91,20.98 L488.80,20.80 L491.52,20.62 L494.41,20.49 L497.43,20.42 L500.55,20.40 L503.76,20.40 L507.01,20.43 L510.29,20.48 L513.57,20.53 L516.81,20.57 L520.00,20.60 L523.31,20.62 L526.78,20.63 L530.35,20.64 L533.95,20.66 L537.51,20.69 L540.96,20.74 L544.23,20.81 L547.26,20.91 L549.97,21.04 L552.30,21.20 L553.29,21.29 L554.21,21.39 L555.05,21.48 L555.83,21.59 L556.57,21.70 L557.28,21.82 L557.96,21.94 L558.63,22.08 L559.31,22.23 L560.00,22.40 L560.61,22.54 L561.21,22.68 L561.80,22.82 L562.38,22.96 L562.95,23.12 L563.51,23.29 L564.05,23.49 L564.58,23.72 L565.10,23.99 L565.60,24.30 L566.13,24.70 L566.65,25.15 L567.16,25.65 L567.64,26.19 L568.11,26.76 L568.57,27.35 L569.00,27.96 L569.42,28.58 L569.82,29.19 L570.20,29.80 L570.55,30.40 L570.89,31.01 L571.19,31.63 L571.48,32.26 L571.76,32.90 L572.02,33.55 L572.27,34.22 L572.52,34.90 L572.76,35.59 L573.00,36.30 L573.27,37.15 L573.53,38.03 L573.78,38.92 L574.02,39.84 L574.25,40.77 L574.47,41.72 L574.68,42.68 L574.89,43.65 L575.10,44.62 L575.30,45.60 L575.52,46.67 L575.73,47.75 L575.94,48.84 L576.13,49.94 L576.33,51.05 L576.51,52.18 L576.69,53.31 L576.87,54.46 L577.04,55.62 L577.20,56.80 L577.37,58.13 L577.54,59.48 L577.69,60.85 L577.84,62.25 L577.98,63.65 L578.11,65.06 L578.24,66.48 L578.36,67.89 L578.48,69.30 L578.60,70.70 L578.71,72.09 L578.81,73.47 L578.91,74.85 L579.00,76.22 L579.09,77.60 L579.17,78.99 L579.26,80.38 L579.34,81.77 L579.42,83.18 L579.50,84.60 L579.59,86.07 L579.67,87.48 L579.75,88.86 L579.82,90.25 L579.90,91.66 L579.98,93.12 L580.05,94.66 L580.13,96.30 L580.21,98.07 L580.30,100.00 L580.47,104.14 L580.65,108.88 L580.84,114.11 L581.03,119.72 L581.23,125.59 L581.43,131.61 L581.63,137.67 L581.83,143.67 L582.02,149.48 L582.20,155.00 L582.37,160.10 L582.53,165.31 L582.68,170.58 L582.83,175.83 L582.99,181.02 L583.14,186.08 L583.30,190.94 L583.46,195.56 L583.62,199.86 L583.80,203.80 L583.91,206.20 L584.03,208.70 L584.15,211.24 L584.27,213.71 L584.40,216.04 L584.52,218.14 L584.64,219.92 L584.76,221.30 L584.88,222.19 L585.00,222.50 L585.14,221.99 L585.27,220.58 L585.41,218.43 L585.54,215.68 L585.67,212.51 L585.80,209.06 L585.92,205.50 L586.05,201.98 L586.18,198.66 L586.30,195.70 L586.43,192.87 L586.55,190.02 L586.67,187.15 L586.79,184.28 L586.91,181.40 L587.03,178.51 L587.14,175.62 L587.26,172.74 L587.38,169.86 L587.50,167.00 L587.62,164.17 L587.74,161.35 L587.86,158.53 L587.98,155.72 L588.09,152.90 L588.21,150.09 L588.33,147.27 L588.45,144.45 L588.58,141.63 L588.70,138.80 L588.83,135.89 L588.95,132.91 L589.08,129.89 L589.21,126.85 L589.34,123.84 L589.47,120.86 L589.60,117.96 L589.73,115.17 L589.87,112.50 L590.00,110.00 L590.10,108.31 L590.19,106.72 L590.29,105.21 L590.39,103.75 L590.48,102.32 L590.58,100.91 L590.68,99.49 L590.79,98.05 L590.89,96.56 L591.00,95.00 L591.12,93.13 L591.25,91.19 L591.37,89.21 L591.50,87.19 L591.63,85.15 L591.76,83.12 L591.90,81.12 L592.06,79.15 L592.22,77.24 L592.40,75.40 L592.56,73.89 L592.73,72.40 L592.91,70.93 L593.10,69.49 L593.29,68.07 L593.48,66.68 L593.69,65.31 L593.89,63.98 L594.09,62.67 L594.30,61.40 L594.47,60.39 L594.63,59.40 L594.79,58.45 L594.95,57.51 L595.12,56.59 L595.29,55.68 L595.47,54.78 L595.66,53.89 L595.87,52.99 L596.10,52.10 L596.33,51.24 L596.56,50.39 L596.80,49.54 L597.05,48.69 L597.32,47.85 L597.59,47.02 L597.89,46.20 L598.20,45.39 L598.54,44.59 L598.90,43.80 L599.28,43.02 L599.69,42.23 L600.11,41.46 L600.55,40.69 L601.01,39.93 L601.49,39.19 L601.99,38.46 L602.51,37.75 L603.05,37.07 L603.60,36.40 L604.17,35.76 L604.77,35.14 L605.38,34.54 L606.02,33.95 L606.67,33.38 L607.34,32.82 L608.02,32.29 L608.70,31.77 L609.40,31.28 L610.10,30.80 L610.79,30.35 L611.50,29.92 L612.21,29.51 L612.93,29.12 L613.66,28.75 L614.41,28.39 L615.16,28.05 L615.93,27.72 L616.71,27.40 L617.50,27.10 L618.37,26.79 L619.27,26.49 L620.18,26.21 L621.11,25.95 L622.06,25.70 L623.00,25.47 L623.96,25.26 L624.91,25.06 L625.86,24.87 L626.80,24.70 L627.73,24.55 L628.65,24.42 L629.59,24.31 L630.52,24.21 L631.45,24.13 L632.39,24.05 L633.32,23.99 L634.25,23.92 L635.18,23.86 L636.10,23.80 L636.98,23.74 L637.82,23.69 L638.64,23.65 L639.46,23.62 L640.28,23.58 L641.12,23.55 L642.01,23.52 L642.94,23.48 L643.93,23.45 L645.00,23.40 L646.97,23.31 L649.11,23.21 L651.42,23.10 L653.86,22.99 L656.40,22.87 L659.04,22.75 L661.74,22.63 L664.48,22.51 L667.24,22.40 L670.00,22.30 L673.41,22.18 L676.94,22.08 L680.57,21.97 L684.28,21.87 L688.05,21.78 L691.85,21.68 L695.67,21.59 L699.48,21.49 L703.27,21.40 L707.00,21.30" fill="none" stroke="#1e8cff" stroke-width="2.4" stroke-linejoin="round"/>
<path d="M472.00,23.50 L473.66,23.22 L475.28,22.93 L476.87,22.62 L478.47,22.32 L480.07,22.01 L481.70,21.72 L483.37,21.45 L485.10,21.20 L486.91,20.98 L488.80,20.80 L491.51,20.62 L494.36,20.50 L497.32,20.43 L500.39,20.41 L503.55,20.42 L506.77,20.45 L510.05,20.50 L513.36,20.54 L516.68,20.58 L520.00,20.60 L523.94,20.60 L528.19,20.59 L532.64,20.59 L537.18,20.58 L541.69,20.59 L546.06,20.62 L550.19,20.66 L553.96,20.74 L557.27,20.85 L560.00,21.00 L560.99,21.07 L561.88,21.13 L562.69,21.19 L563.44,21.25 L564.14,21.32 L564.80,21.40 L565.45,21.51 L566.08,21.64 L566.73,21.80 L567.40,22.00 L568.06,22.22 L568.70,22.47 L569.34,22.73 L569.97,23.02 L570.59,23.33 L571.19,23.66 L571.79,24.02 L572.37,24.39 L572.94,24.79 L573.50,25.20 L574.07,25.65 L574.64,26.13 L575.19,26.62 L575.73,27.13 L576.25,27.67 L576.76,28.24 L577.25,28.83 L577.72,29.45 L578.17,30.11 L578.60,30.80 L579.10,31.73 L579.56,32.75 L579.99,33.84 L580.40,34.97 L580.77,36.15 L581.12,37.34 L581.45,38.52 L581.75,39.69 L582.03,40.82 L582.30,41.90 L582.51,42.77 L582.69,43.60 L582.84,44.40 L582.98,45.19 L583.11,45.98 L583.22,46.78 L583.34,47.60 L583.45,48.45 L583.57,49.35 L583.70,50.30 L583.89,51.76 L584.08,53.35 L584.27,55.04 L584.46,56.80 L584.65,58.60 L584.83,60.39 L585.00,62.17 L585.18,63.88 L585.34,65.50 L585.50,67.00 L585.61,68.02 L585.72,68.98 L585.82,69.89 L585.92,70.76 L586.02,71.62 L586.12,72.48 L586.21,73.36 L586.31,74.28 L586.40,75.25 L586.50,76.30 L586.64,77.88 L586.78,79.53 L586.92,81.24 L587.06,83.02 L587.19,84.87 L587.33,86.78 L587.45,88.74 L587.58,90.77 L587.69,92.86 L587.80,95.00 L587.93,98.10 L588.04,101.37 L588.13,104.80 L588.21,108.34 L588.28,111.99 L588.35,115.70 L588.42,119.46 L588.50,123.23 L588.59,126.99 L588.70,130.70 L588.83,134.67 L588.98,138.73 L589.14,142.83 L589.31,146.97 L589.48,151.12 L589.65,155.26 L589.82,159.37 L589.99,163.43 L590.15,167.41 L590.30,171.30 L590.43,174.74 L590.55,178.18 L590.67,181.61 L590.79,185.01 L590.90,188.36 L591.02,191.65 L591.14,194.85 L591.25,197.96 L591.37,200.95 L591.50,203.80 L591.59,206.00 L591.69,208.36 L591.78,210.79 L591.87,213.20 L591.96,215.49 L592.06,217.58 L592.16,219.37 L592.27,220.76 L592.38,221.67 L592.50,222.00 L592.56,221.95 L592.61,221.80 L592.67,221.57 L592.74,221.26 L592.80,220.89 L592.86,220.46 L592.92,220.00 L592.98,219.51 L593.04,219.01 L593.10,218.50 L593.24,217.05 L593.38,215.28 L593.52,213.26 L593.65,211.01 L593.78,208.60 L593.91,206.07 L594.03,203.47 L594.16,200.84 L594.28,198.23 L594.40,195.70 L594.54,192.68 L594.67,189.57 L594.80,186.37 L594.93,183.11 L595.05,179.81 L595.17,176.48 L595.30,173.13 L595.43,169.79 L595.56,166.48 L595.70,163.20 L595.85,159.97 L596.00,156.76 L596.15,153.56 L596.31,150.37 L596.47,147.18 L596.63,143.96 L596.80,140.72 L596.96,137.43 L597.13,134.10 L597.30,130.70 L597.49,126.69 L597.69,122.41 L597.88,117.96 L598.08,113.43 L598.29,108.92 L598.49,104.52 L598.69,100.33 L598.90,96.45 L599.10,92.98 L599.30,90.00 L599.40,88.74 L599.49,87.61 L599.59,86.58 L599.68,85.63 L599.77,84.74 L599.87,83.86 L599.97,82.97 L600.07,82.05 L600.18,81.07 L600.30,80.00 L600.46,78.49 L600.62,76.88 L600.79,75.19 L600.96,73.46 L601.15,71.70 L601.34,69.94 L601.54,68.19 L601.75,66.49 L601.97,64.85 L602.20,63.30 L602.40,62.08 L602.60,60.88 L602.81,59.71 L603.03,58.56 L603.25,57.44 L603.48,56.34 L603.72,55.25 L603.97,54.19 L604.23,53.14 L604.50,52.10 L604.74,51.21 L604.99,50.32 L605.24,49.46 L605.50,48.60 L605.77,47.76 L606.05,46.94 L606.34,46.13 L606.64,45.33 L606.96,44.56 L607.30,43.80 L607.62,43.13 L607.94,42.48 L608.27,41.84 L608.62,41.21 L608.97,40.60 L609.34,40.00 L609.73,39.41 L610.13,38.83 L610.56,38.26 L611.00,37.70 L611.48,37.14 L611.98,36.58 L612.50,36.04 L613.04,35.52 L613.60,35.00 L614.17,34.50 L614.76,34.00 L615.36,33.52 L615.98,33.06 L616.60,32.60 L617.27,32.13 L617.96,31.67 L618.67,31.22 L619.39,30.78 L620.12,30.36 L620.87,29.95 L621.64,29.56 L622.41,29.18 L623.20,28.83 L624.00,28.50 L624.87,28.17 L625.76,27.87 L626.68,27.60 L627.61,27.35 L628.55,27.11 L629.50,26.89 L630.46,26.68 L631.41,26.48 L632.36,26.29 L633.30,26.10 L634.20,25.92 L635.07,25.75 L635.93,25.60 L636.77,25.46 L637.63,25.32 L638.52,25.19 L639.44,25.07 L640.42,24.95 L641.47,24.82 L642.60,24.70 L644.73,24.49 L647.08,24.30 L649.62,24.11 L652.32,23.94 L655.13,23.77 L658.05,23.61 L661.02,23.45 L664.02,23.30 L667.03,23.15 L670.00,23.00 L673.47,22.83 L677.04,22.67 L680.69,22.51 L684.40,22.36 L688.15,22.22 L691.93,22.08 L695.72,21.93 L699.51,21.79 L703.27,21.65 L707.00,21.50" fill="none" stroke="#ff7f0c" stroke-width="2.6" stroke-dasharray="16.8,9" stroke-linecap="round" stroke-dashoffset="0"/>
<rect x="470" y="16.5" width="238.3" height="210.8" fill="none" stroke="#000" stroke-width="3"/>
<line x1="458.2" y1="227.3" x2="470" y2="227.3" stroke="#000" stroke-width="3" />
<text x="457.5" y="232.6" font-size="16.5" fill="#111" text-anchor="end" font-weight="bold" >0</text>
<line x1="460.1" y1="206.33" x2="470" y2="206.33" stroke="#000" stroke-width="3" />
<line x1="458.2" y1="185.36" x2="470" y2="185.36" stroke="#000" stroke-width="3" />
<text x="457.5" y="190.66" font-size="16.5" fill="#111" text-anchor="end" font-weight="bold" >0.2</text>
<line x1="460.1" y1="164.39" x2="470" y2="164.39" stroke="#000" stroke-width="3" />
<line x1="458.2" y1="143.42" x2="470" y2="143.42" stroke="#000" stroke-width="3" />
<text x="457.5" y="148.72" font-size="16.5" fill="#111" text-anchor="end" font-weight="bold" >0.4</text>
<line x1="460.1" y1="122.45" x2="470" y2="122.45" stroke="#000" stroke-width="3" />
<line x1="458.2" y1="101.48" x2="470" y2="101.48" stroke="#000" stroke-width="3" />
<text x="457.5" y="106.78" font-size="16.5" fill="#111" text-anchor="end" font-weight="bold" >0.6</text>
<line x1="460.1" y1="80.51" x2="470" y2="80.51" stroke="#000" stroke-width="3" />
<line x1="458.2" y1="59.54" x2="470" y2="59.54" stroke="#000" stroke-width="3" />
<text x="457.5" y="64.84" font-size="16.5" fill="#111" text-anchor="end" font-weight="bold" >0.8</text>
<line x1="460.1" y1="38.57" x2="470" y2="38.57" stroke="#000" stroke-width="3" />
<line x1="458.2" y1="17.6" x2="470" y2="17.6" stroke="#000" stroke-width="3" />
<text x="457.5" y="22.9" font-size="16.5" fill="#111" text-anchor="end" font-weight="bold" >1</text>
<line x1="470" y1="227.3" x2="470" y2="236.1" stroke="#000" stroke-width="3" />
<text x="470" y="248.3" font-size="16.5" fill="#111" text-anchor="middle" font-weight="bold" >60</text>
<line x1="500.3" y1="227.3" x2="500.3" y2="234.3" stroke="#000" stroke-width="3" />
<line x1="527.5" y1="227.3" x2="527.5" y2="236.1" stroke="#000" stroke-width="3" />
<text x="527.5" y="248.3" font-size="16.5" fill="#111" text-anchor="middle" font-weight="bold" >65</text>
<line x1="557.8" y1="227.3" x2="557.8" y2="234.3" stroke="#000" stroke-width="3" />
<line x1="588" y1="227.3" x2="588" y2="236.1" stroke="#000" stroke-width="3" />
<text x="588" y="248.3" font-size="16.5" fill="#111" text-anchor="middle" font-weight="bold" >70</text>
<line x1="618" y1="227.3" x2="618" y2="234.3" stroke="#000" stroke-width="3" />
<line x1="647.8" y1="227.3" x2="647.8" y2="236.1" stroke="#000" stroke-width="3" />
<text x="647.8" y="248.3" font-size="16.5" fill="#111" text-anchor="middle" font-weight="bold" >75</text>
<line x1="677.4" y1="227.3" x2="677.4" y2="234.3" stroke="#000" stroke-width="3" />
<line x1="708.3" y1="227.3" x2="708.3" y2="236.1" stroke="#000" stroke-width="3" />
<text x="708.3" y="248.3" font-size="16.5" fill="#111" text-anchor="middle" font-weight="bold" >80</text>
<text x="587" y="266.6" font-size="16.4" fill="#111" text-anchor="middle" font-weight="bold" >Incident angle (deg)</text>
<text x="576" y="284.3" font-size="14.5" fill="#111" text-anchor="middle" font-weight="bold" >(d)</text>
<text x="433" y="123.5" font-size="16.5" fill="#111" font-weight="bold" text-anchor="middle" transform="rotate(-90 433 123.5)">Reflectance (R<tspan font-size="11" dy="4">p</tspan><tspan dy="-4">)</tspan></text>
<rect x="471" y="196.6" width="55.4" height="30" fill="none" stroke="#333" stroke-width="0.8"/>
<line x1="474.8" y1="202.4" x2="489.3" y2="202.4" stroke="#1e8cff" stroke-width="2.6" />
<line x1="474.8" y1="220.1" x2="489.3" y2="220.1" stroke="#ff7f0c" stroke-width="2.6" />
<text x="488.8" y="206.7" font-size="15.2" fill="#111" text-anchor="start" font-weight="normal" >1.33</text>
<text x="488.8" y="224.4" font-size="15.2" fill="#111" text-anchor="start" font-weight="normal" >1.335</text>
<text x="599.1" y="181.5" font-size="14" fill="#111" font-weight="bold">FOM = 183RIU<tspan font-size="9.5" dy="-5">−1</tspan></text>
<text x="599.1" y="200.6" font-size="14" fill="#111" font-weight="bold">S<tspan font-size="10" dy="2.5" font-weight="bold">n</tspan><tspan dy="-2.5"> = 132°/RIU</tspan></text>
<text x="610" y="219.3" font-size="14" fill="#111" font-weight="bold">δθ = 0.66°</text>
<path d="M473.30,300.80 L474.13,300.84 L474.96,300.87 L475.79,300.90 L476.62,300.94 L477.45,300.97 L478.29,301.00 L479.12,301.04 L479.94,301.09 L480.77,301.14 L481.60,301.20 L482.43,301.26 L483.26,301.32 L484.10,301.37 L484.93,301.44 L485.77,301.50 L486.60,301.58 L487.42,301.68 L488.23,301.79 L489.02,301.93 L489.80,302.10 L490.51,302.28 L491.22,302.47 L491.93,302.67 L492.62,302.89 L493.30,303.13 L493.98,303.39 L494.63,303.66 L495.27,303.95 L495.90,304.27 L496.50,304.60 L497.05,304.94 L497.58,305.29 L498.10,305.66 L498.60,306.05 L499.09,306.46 L499.57,306.88 L500.04,307.32 L500.50,307.77 L500.95,308.23 L501.40,308.70 L501.87,309.22 L502.33,309.75 L502.78,310.31 L503.22,310.88 L503.64,311.46 L504.06,312.06 L504.47,312.66 L504.86,313.27 L505.24,313.88 L505.60,314.50 L505.95,315.11 L506.27,315.73 L506.59,316.35 L506.89,316.97 L507.18,317.60 L507.46,318.25 L507.73,318.91 L507.99,319.58 L508.25,320.28 L508.50,321.00 L508.80,321.90 L509.08,322.82 L509.35,323.77 L509.60,324.75 L509.85,325.74 L510.09,326.76 L510.33,327.80 L510.55,328.85 L510.78,329.92 L511.00,331.00 L511.25,332.28 L511.50,333.60 L511.74,334.95 L511.98,336.32 L512.20,337.71 L512.42,339.12 L512.63,340.53 L512.83,341.96 L513.02,343.38 L513.20,344.80 L513.38,346.30 L513.54,347.83 L513.69,349.39 L513.84,350.96 L513.97,352.53 L514.10,354.08 L514.22,355.62 L514.35,357.13 L514.47,358.59 L514.60,360.00 L514.70,361.11 L514.81,362.17 L514.90,363.19 L515.00,364.18 L515.09,365.17 L515.19,366.16 L515.28,367.17 L515.38,368.22 L515.49,369.33 L515.60,370.50 L515.76,372.19 L515.93,373.96 L516.10,375.80 L516.28,377.70 L516.47,379.66 L516.65,381.66 L516.84,383.70 L517.03,385.78 L517.22,387.88 L517.40,390.00 L517.62,392.59 L517.84,395.26 L518.07,398.00 L518.30,400.80 L518.52,403.64 L518.75,406.50 L518.97,409.38 L519.18,412.24 L519.40,415.09 L519.60,417.90 L519.80,420.68 L519.99,423.46 L520.18,426.24 L520.37,429.02 L520.55,431.80 L520.73,434.58 L520.90,437.36 L521.07,440.14 L521.24,442.92 L521.40,445.70 L521.55,448.49 L521.70,451.27 L521.84,454.06 L521.97,456.84 L522.10,459.63 L522.23,462.42 L522.36,465.21 L522.50,468.00 L522.65,470.80 L522.80,473.60 L522.96,476.69 L523.12,480.17 L523.28,483.89 L523.45,487.67 L523.62,491.33 L523.80,494.71 L523.98,497.64 L524.18,499.95 L524.38,501.46 L524.60,502.00 L524.83,501.46 L525.09,499.96 L525.35,497.65 L525.62,494.72 L525.90,491.34 L526.19,487.67 L526.47,483.89 L526.76,480.17 L527.03,476.69 L527.30,473.60 L527.56,470.80 L527.82,468.00 L528.09,465.21 L528.35,462.42 L528.61,459.63 L528.87,456.85 L529.11,454.06 L529.35,451.27 L529.58,448.49 L529.80,445.70 L530.00,442.89 L530.20,440.04 L530.38,437.17 L530.56,434.29 L530.73,431.42 L530.89,428.58 L531.05,425.79 L531.20,423.07 L531.35,420.43 L531.50,417.90 L531.61,415.94 L531.72,414.04 L531.82,412.19 L531.92,410.38 L532.01,408.61 L532.11,406.86 L532.20,405.13 L532.30,403.42 L532.40,401.71 L532.50,400.00 L532.59,398.46 L532.68,396.97 L532.77,395.51 L532.86,394.07 L532.95,392.64 L533.05,391.19 L533.15,389.72 L533.26,388.21 L533.37,386.64 L533.50,385.00 L533.67,382.79 L533.85,380.46 L534.04,378.03 L534.23,375.53 L534.44,372.99 L534.66,370.45 L534.90,367.92 L535.15,365.46 L535.42,363.07 L535.70,360.80 L535.96,358.93 L536.23,357.06 L536.52,355.20 L536.82,353.36 L537.12,351.57 L537.44,349.83 L537.76,348.15 L538.07,346.57 L538.39,345.08 L538.70,343.70 L538.90,342.90 L539.09,342.17 L539.28,341.49 L539.47,340.85 L539.67,340.23 L539.86,339.61 L540.07,338.99 L540.27,338.34 L540.48,337.65 L540.70,336.90 L540.99,335.80 L541.28,334.61 L541.56,333.35 L541.85,332.06 L542.15,330.73 L542.48,329.41 L542.82,328.10 L543.21,326.84 L543.63,325.63 L544.10,324.50 L544.55,323.56 L545.02,322.64 L545.52,321.74 L546.04,320.87 L546.58,320.02 L547.15,319.20 L547.75,318.41 L548.37,317.64 L549.02,316.91 L549.70,316.20 L550.41,315.53 L551.15,314.89 L551.93,314.28 L552.73,313.70 L553.56,313.15 L554.40,312.62 L555.26,312.11 L556.14,311.62 L557.02,311.15 L557.90,310.70 L558.81,310.26 L559.72,309.85 L560.65,309.46 L561.59,309.09 L562.54,308.75 L563.52,308.42 L564.50,308.10 L565.51,307.80 L566.54,307.50 L567.60,307.20 L568.87,306.87 L570.19,306.55 L571.54,306.25 L572.92,305.97 L574.33,305.70 L575.75,305.44 L577.17,305.20 L578.59,304.96 L580.01,304.73 L581.40,304.50 L582.76,304.28 L584.11,304.08 L585.45,303.88 L586.78,303.70 L588.12,303.52 L589.47,303.35 L590.85,303.19 L592.26,303.02 L593.71,302.86 L595.20,302.70 L597.09,302.51 L599.04,302.32 L601.05,302.14 L603.10,301.97 L605.19,301.80 L607.30,301.64 L609.44,301.48 L611.59,301.32 L613.75,301.16 L615.90,301.00 L618.22,300.83 L620.53,300.66 L622.85,300.50 L625.19,300.34 L627.55,300.18 L629.95,300.03 L632.38,299.87 L634.86,299.71 L637.40,299.56 L640.00,299.40 L643.24,299.21 L646.60,299.02 L650.05,298.83 L653.58,298.64 L657.16,298.45 L660.76,298.26 L664.37,298.07 L667.96,297.88 L671.51,297.69 L675.00,297.50 L678.34,297.31 L681.66,297.12 L684.97,296.93 L688.27,296.74 L691.56,296.55 L694.85,296.36 L698.13,296.17 L701.42,295.98 L704.70,295.79 L708.00,295.60" fill="none" stroke="#1e8cff" stroke-width="2.4" stroke-linejoin="round"/>
<path d="M473.30,299.20 L474.13,299.24 L474.95,299.27 L475.78,299.30 L476.60,299.33 L477.43,299.35 L478.25,299.39 L479.08,299.43 L479.92,299.47 L480.76,299.53 L481.60,299.60 L482.50,299.69 L483.41,299.78 L484.33,299.89 L485.26,300.01 L486.19,300.13 L487.11,300.26 L488.03,300.40 L488.94,300.53 L489.83,300.67 L490.70,300.80 L491.48,300.91 L492.24,301.02 L493.00,301.12 L493.75,301.22 L494.49,301.33 L495.23,301.45 L495.95,301.58 L496.68,301.73 L497.39,301.90 L498.10,302.10 L498.79,302.32 L499.48,302.56 L500.17,302.82 L500.85,303.09 L501.52,303.38 L502.18,303.68 L502.83,304.00 L503.47,304.32 L504.09,304.66 L504.70,305.00 L505.25,305.33 L505.79,305.67 L506.33,306.01 L506.85,306.37 L507.36,306.74 L507.86,307.12 L508.34,307.50 L508.81,307.89 L509.26,308.29 L509.70,308.70 L510.08,309.08 L510.44,309.46 L510.79,309.84 L511.12,310.23 L511.44,310.63 L511.75,311.03 L512.06,311.45 L512.37,311.88 L512.68,312.33 L513.00,312.80 L513.39,313.39 L513.77,314.00 L514.16,314.64 L514.55,315.30 L514.93,315.97 L515.30,316.66 L515.67,317.36 L516.03,318.07 L516.37,318.78 L516.70,319.50 L517.04,320.27 L517.37,321.06 L517.68,321.86 L517.99,322.67 L518.28,323.49 L518.57,324.31 L518.84,325.15 L519.11,326.00 L519.36,326.85 L519.60,327.70 L519.84,328.61 L520.05,329.55 L520.26,330.50 L520.44,331.46 L520.62,332.43 L520.79,333.39 L520.96,334.35 L521.14,335.29 L521.31,336.21 L521.50,337.10 L521.67,337.85 L521.85,338.56 L522.03,339.24 L522.21,339.91 L522.39,340.58 L522.56,341.26 L522.73,341.96 L522.90,342.69 L523.05,343.47 L523.20,344.30 L523.39,345.64 L523.57,347.13 L523.73,348.72 L523.88,350.38 L524.01,352.09 L524.14,353.79 L524.26,355.47 L524.37,357.09 L524.49,358.61 L524.60,360.00 L524.68,360.90 L524.75,361.73 L524.82,362.50 L524.88,363.24 L524.95,363.97 L525.01,364.70 L525.08,365.46 L525.14,366.27 L525.22,367.14 L525.30,368.10 L525.45,369.83 L525.60,371.72 L525.77,373.73 L525.95,375.85 L526.13,378.07 L526.32,380.36 L526.51,382.72 L526.71,385.13 L526.90,387.56 L527.10,390.00 L527.35,393.17 L527.62,396.51 L527.90,399.97 L528.19,403.53 L528.47,407.14 L528.76,410.77 L529.04,414.39 L529.31,417.96 L529.56,421.44 L529.80,424.80 L530.00,427.71 L530.19,430.58 L530.37,433.40 L530.54,436.18 L530.71,438.94 L530.87,441.69 L531.03,444.43 L531.19,447.17 L531.35,449.93 L531.50,452.70 L531.65,455.49 L531.79,458.31 L531.93,461.14 L532.06,463.96 L532.19,466.79 L532.33,469.59 L532.46,472.38 L532.60,475.13 L532.75,477.84 L532.90,480.50 L533.04,483.05 L533.18,485.87 L533.32,488.83 L533.46,491.81 L533.61,494.69 L533.76,497.33 L533.92,499.60 L534.10,501.39 L534.29,502.57 L534.50,503.00 L534.60,502.94 L534.71,502.75 L534.82,502.46 L534.93,502.06 L535.04,501.59 L535.16,501.06 L535.27,500.48 L535.38,499.86 L535.49,499.23 L535.60,498.60 L535.84,496.94 L536.07,494.94 L536.28,492.65 L536.49,490.15 L536.70,487.47 L536.90,484.69 L537.10,481.85 L537.30,479.02 L537.50,476.25 L537.70,473.60 L537.91,470.87 L538.13,468.12 L538.34,465.34 L538.55,462.55 L538.76,459.74 L538.97,456.93 L539.17,454.11 L539.38,451.30 L539.59,448.49 L539.80,445.70 L540.01,442.91 L540.23,440.09 L540.44,437.27 L540.66,434.45 L540.87,431.63 L541.09,428.82 L541.30,426.04 L541.50,423.29 L541.70,420.57 L541.90,417.90 L542.08,415.49 L542.25,413.07 L542.42,410.65 L542.60,408.24 L542.76,405.87 L542.93,403.55 L543.08,401.28 L543.23,399.09 L543.37,396.99 L543.50,395.00 L543.58,393.63 L543.65,392.34 L543.71,391.12 L543.76,389.94 L543.81,388.79 L543.86,387.64 L543.92,386.47 L544.00,385.28 L544.09,384.03 L544.20,382.70 L544.37,380.92 L544.56,379.06 L544.77,377.13 L544.99,375.15 L545.24,373.14 L545.49,371.11 L545.76,369.09 L546.03,367.08 L546.31,365.11 L546.60,363.20 L546.88,361.40 L547.16,359.56 L547.46,357.70 L547.77,355.85 L548.08,354.03 L548.40,352.25 L548.73,350.55 L549.05,348.94 L549.38,347.45 L549.70,346.10 L549.89,345.37 L550.09,344.70 L550.28,344.09 L550.47,343.52 L550.66,342.97 L550.86,342.42 L551.06,341.87 L551.27,341.29 L551.48,340.67 L551.70,340.00 L552.00,338.99 L552.30,337.90 L552.59,336.75 L552.90,335.55 L553.22,334.33 L553.55,333.11 L553.91,331.91 L554.30,330.74 L554.73,329.63 L555.20,328.60 L555.65,327.74 L556.13,326.91 L556.64,326.10 L557.17,325.32 L557.72,324.57 L558.29,323.83 L558.87,323.11 L559.47,322.39 L560.08,321.69 L560.70,321.00 L561.33,320.32 L561.97,319.64 L562.62,318.97 L563.29,318.32 L563.97,317.68 L564.67,317.06 L565.38,316.46 L566.11,315.88 L566.85,315.33 L567.60,314.80 L568.37,314.30 L569.15,313.83 L569.94,313.39 L570.75,312.97 L571.57,312.56 L572.41,312.17 L573.26,311.80 L574.12,311.43 L575.00,311.06 L575.90,310.70 L576.92,310.30 L577.95,309.92 L579.00,309.55 L580.08,309.19 L581.17,308.85 L582.27,308.51 L583.40,308.18 L584.55,307.85 L585.71,307.52 L586.90,307.20 L588.30,306.82 L589.73,306.45 L591.19,306.08 L592.67,305.72 L594.18,305.36 L595.71,305.02 L597.27,304.69 L598.86,304.37 L600.47,304.08 L602.10,303.80 L604.04,303.51 L606.06,303.25 L608.12,303.02 L610.23,302.81 L612.36,302.62 L614.50,302.44 L616.63,302.26 L618.73,302.08 L620.79,301.90 L622.80,301.70 L624.56,301.51 L626.24,301.33 L627.89,301.14 L629.50,300.96 L631.12,300.78 L632.76,300.60 L634.44,300.42 L636.20,300.24 L638.04,300.07 L640.00,299.90 L643.00,299.67 L646.23,299.45 L649.63,299.24 L653.16,299.03 L656.79,298.83 L660.48,298.63 L664.19,298.43 L667.87,298.22 L671.49,298.01 L675.00,297.80 L678.34,297.59 L681.66,297.37 L684.97,297.15 L688.27,296.93 L691.56,296.71 L694.85,296.49 L698.13,296.26 L701.42,296.04 L704.70,295.82 L708.00,295.60" fill="none" stroke="#ff7f0c" stroke-width="2.6" stroke-dasharray="16.8,9" stroke-linecap="round" stroke-dashoffset="0"/>
<rect x="472" y="293.8" width="237.8" height="211.4" fill="none" stroke="#000" stroke-width="3"/>
<line x1="460.2" y1="505" x2="472" y2="505" stroke="#000" stroke-width="3" />
<text x="459" y="510.3" font-size="16.5" fill="#111" text-anchor="end" font-weight="bold" >0</text>
<line x1="462.1" y1="484.16" x2="472" y2="484.16" stroke="#000" stroke-width="3" />
<line x1="460.2" y1="463.32" x2="472" y2="463.32" stroke="#000" stroke-width="3" />
<text x="459" y="468.62" font-size="16.5" fill="#111" text-anchor="end" font-weight="bold" >0.2</text>
<line x1="462.1" y1="442.48" x2="472" y2="442.48" stroke="#000" stroke-width="3" />
<line x1="460.2" y1="421.64" x2="472" y2="421.64" stroke="#000" stroke-width="3" />
<text x="459" y="426.94" font-size="16.5" fill="#111" text-anchor="end" font-weight="bold" >0.4</text>
<line x1="462.1" y1="400.8" x2="472" y2="400.8" stroke="#000" stroke-width="3" />
<line x1="460.2" y1="379.96" x2="472" y2="379.96" stroke="#000" stroke-width="3" />
<text x="459" y="385.26" font-size="16.5" fill="#111" text-anchor="end" font-weight="bold" >0.6</text>
<line x1="462.1" y1="359.12" x2="472" y2="359.12" stroke="#000" stroke-width="3" />
<line x1="460.2" y1="338.28" x2="472" y2="338.28" stroke="#000" stroke-width="3" />
<text x="459" y="343.58" font-size="16.5" fill="#111" text-anchor="end" font-weight="bold" >0.8</text>
<line x1="462.1" y1="317.44" x2="472" y2="317.44" stroke="#000" stroke-width="3" />
<line x1="460.2" y1="296.6" x2="472" y2="296.6" stroke="#000" stroke-width="3" />
<text x="459" y="301.9" font-size="16.5" fill="#111" text-anchor="end" font-weight="bold" >1</text>
<line x1="471.8" y1="505.2" x2="471.8" y2="514" stroke="#000" stroke-width="3" />
<text x="471.8" y="529" font-size="16.5" fill="#111" text-anchor="middle" font-weight="bold" >70</text>
<line x1="501.6" y1="505.2" x2="501.6" y2="512.2" stroke="#000" stroke-width="3" />
<line x1="531.3" y1="505.2" x2="531.3" y2="514" stroke="#000" stroke-width="3" />
<text x="531.3" y="529" font-size="16.5" fill="#111" text-anchor="middle" font-weight="bold" >75</text>
<line x1="560.6" y1="505.2" x2="560.6" y2="512.2" stroke="#000" stroke-width="3" />
<line x1="589.6" y1="505.2" x2="589.6" y2="514" stroke="#000" stroke-width="3" />
<text x="589.6" y="529" font-size="16.5" fill="#111" text-anchor="middle" font-weight="bold" >80</text>
<line x1="619.2" y1="505.2" x2="619.2" y2="512.2" stroke="#000" stroke-width="3" />
<line x1="648.9" y1="505.2" x2="648.9" y2="514" stroke="#000" stroke-width="3" />
<text x="648.9" y="529" font-size="16.5" fill="#111" text-anchor="middle" font-weight="bold" >85</text>
<line x1="678.8" y1="505.2" x2="678.8" y2="512.2" stroke="#000" stroke-width="3" />
<line x1="709.5" y1="505.2" x2="709.5" y2="514" stroke="#000" stroke-width="3" />
<text x="709.5" y="529" font-size="16.5" fill="#111" text-anchor="middle" font-weight="bold" >90</text>
<text x="588.7" y="547.9" font-size="16.4" fill="#111" text-anchor="middle" font-weight="bold" >Incident angle (deg)</text>
<text x="575.9" y="564" font-size="14.5" fill="#111" text-anchor="middle" font-weight="bold" >(e)</text>
<text x="433" y="402" font-size="16.5" fill="#111" font-weight="bold" text-anchor="middle" transform="rotate(-90 433 402)">Reflectance (R<tspan font-size="11" dy="4">p</tspan><tspan dy="-4">)</tspan></text>
<rect x="649.7" y="473" width="58.5" height="32.5" fill="none" stroke="#333" stroke-width="0.8"/>
<line x1="655" y1="480.6" x2="669.3" y2="480.6" stroke="#1e8cff" stroke-width="2.6" />
<line x1="655" y1="497.8" x2="669.3" y2="497.8" stroke="#ff7f0c" stroke-width="2.6" />
<text x="668.8" y="484.9" font-size="15.2" fill="#111" text-anchor="start" font-weight="normal" >1.33</text>
<text x="668.8" y="502.1" font-size="15.2" fill="#111" text-anchor="start" font-weight="normal" >1.335</text>
<text x="544.8" y="455.5" font-size="14" fill="#111" font-weight="bold">FOM = 144.7RIU<tspan font-size="9.5" dy="-5">−1</tspan></text>
<text x="546.7" y="475.5" font-size="14" fill="#111" font-weight="bold">S<tspan font-size="10" dy="2.5" font-weight="bold">n</tspan><tspan dy="-2.5"> = 178°/RIU</tspan></text>
<text x="544.8" y="496.5" font-size="14" fill="#111" font-weight="bold">δθ = 0.89°</text>
<path d="M473.10,587.90 L475.81,587.97 L478.54,588.03 L481.30,588.09 L484.05,588.15 L486.80,588.21 L489.53,588.28 L492.22,588.34 L494.88,588.42 L497.47,588.50 L500.00,588.60 L502.14,588.69 L504.25,588.79 L506.34,588.89 L508.39,589.00 L510.42,589.11 L512.41,589.22 L514.37,589.34 L516.29,589.46 L518.16,589.58 L520.00,589.70 L521.48,589.80 L522.92,589.90 L524.33,590.00 L525.71,590.10 L527.06,590.21 L528.40,590.32 L529.74,590.43 L531.08,590.55 L532.43,590.67 L533.80,590.80 L535.20,590.94 L536.62,591.08 L538.05,591.22 L539.49,591.37 L540.92,591.52 L542.33,591.68 L543.72,591.85 L545.06,592.02 L546.36,592.21 L547.60,592.40 L548.53,592.55 L549.42,592.71 L550.27,592.86 L551.11,593.02 L551.93,593.19 L552.74,593.36 L553.54,593.55 L554.35,593.75 L555.16,593.97 L556.00,594.20 L556.91,594.47 L557.83,594.76 L558.77,595.08 L559.70,595.41 L560.64,595.75 L561.57,596.10 L562.47,596.45 L563.35,596.80 L564.20,597.16 L565.00,597.50 L565.61,597.77 L566.20,598.04 L566.77,598.31 L567.32,598.58 L567.85,598.85 L568.38,599.13 L568.91,599.41 L569.43,599.70 L569.96,600.00 L570.50,600.30 L571.06,600.62 L571.61,600.95 L572.17,601.28 L572.72,601.61 L573.27,601.96 L573.82,602.31 L574.37,602.67 L574.91,603.04 L575.46,603.41 L576.00,603.80 L576.57,604.22 L577.14,604.64 L577.71,605.08 L578.27,605.52 L578.84,605.98 L579.40,606.44 L579.96,606.91 L580.51,607.40 L581.06,607.89 L581.60,608.40 L582.17,608.95 L582.74,609.53 L583.31,610.12 L583.87,610.72 L584.43,611.33 L584.98,611.95 L585.52,612.56 L586.06,613.18 L586.59,613.80 L587.10,614.40 L587.57,614.96 L588.04,615.51 L588.49,616.06 L588.94,616.62 L589.38,617.17 L589.82,617.72 L590.25,618.28 L590.67,618.85 L591.09,619.42 L591.50,620.00 L591.91,620.60 L592.32,621.22 L592.72,621.85 L593.12,622.49 L593.51,623.13 L593.89,623.76 L594.26,624.39 L594.62,625.01 L594.97,625.62 L595.30,626.20 L595.56,626.66 L595.80,627.10 L596.03,627.53 L596.25,627.95 L596.46,628.37 L596.68,628.79 L596.89,629.22 L597.12,629.66 L597.35,630.12 L597.60,630.60 L597.94,631.24 L598.29,631.88 L598.66,632.53 L599.03,633.19 L599.42,633.88 L599.81,634.60 L600.20,635.36 L600.60,636.15 L601.00,637.00 L601.40,637.90 L602.06,639.49 L602.75,641.25 L603.47,643.16 L604.20,645.17 L604.93,647.28 L605.65,649.44 L606.36,651.63 L607.04,653.82 L607.69,655.99 L608.30,658.10 L608.87,660.25 L609.41,662.42 L609.91,664.62 L610.39,666.83 L610.85,669.05 L611.29,671.27 L611.74,673.48 L612.18,675.68 L612.63,677.85 L613.10,680.00 L613.55,682.00 L613.99,683.97 L614.43,685.91 L614.86,687.84 L615.30,689.77 L615.74,691.70 L616.19,693.65 L616.65,695.63 L617.12,697.64 L617.60,699.70 L618.17,702.09 L618.77,704.55 L619.38,707.05 L620.01,709.59 L620.64,712.15 L621.28,714.71 L621.90,717.28 L622.52,719.82 L623.12,722.33 L623.70,724.80 L624.23,727.11 L624.74,729.43 L625.24,731.75 L625.74,734.07 L626.23,736.36 L626.71,738.63 L627.19,740.86 L627.66,743.03 L628.13,745.15 L628.60,747.20 L628.98,748.84 L629.36,750.46 L629.74,752.06 L630.11,753.64 L630.48,755.17 L630.85,756.67 L631.22,758.12 L631.58,759.51 L631.94,760.84 L632.30,762.10 L632.55,762.96 L632.79,763.81 L633.03,764.63 L633.26,765.42 L633.50,766.19 L633.74,766.92 L633.99,767.62 L634.24,768.29 L634.51,768.91 L634.80,769.50 L635.01,769.91 L635.23,770.33 L635.45,770.75 L635.67,771.15 L635.90,771.53 L636.14,771.88 L636.37,772.17 L636.61,772.39 L636.86,772.54 L637.10,772.60 L637.36,772.56 L637.63,772.42 L637.90,772.20 L638.18,771.91 L638.45,771.56 L638.73,771.18 L639.01,770.77 L639.28,770.34 L639.54,769.91 L639.80,769.50 L640.14,768.92 L640.47,768.29 L640.79,767.63 L641.10,766.93 L641.40,766.20 L641.70,765.43 L642.00,764.64 L642.29,763.81 L642.59,762.97 L642.90,762.10 L643.33,760.84 L643.76,759.51 L644.20,758.12 L644.63,756.68 L645.06,755.18 L645.49,753.65 L645.92,752.07 L646.35,750.47 L646.78,748.84 L647.20,747.20 L647.71,745.17 L648.20,743.08 L648.68,740.94 L649.17,738.75 L649.65,736.52 L650.13,734.25 L650.63,731.94 L651.13,729.59 L651.66,727.21 L652.20,724.80 L652.87,721.87 L653.56,718.82 L654.28,715.69 L655.01,712.50 L655.75,709.27 L656.50,706.04 L657.26,702.83 L658.01,699.67 L658.76,696.58 L659.50,693.60 L660.15,691.03 L660.79,688.49 L661.42,685.99 L662.06,683.52 L662.70,681.07 L663.35,678.66 L664.00,676.28 L664.65,673.93 L665.32,671.60 L666.00,669.30 L666.62,667.25 L667.23,665.23 L667.85,663.24 L668.47,661.27 L669.10,659.32 L669.74,657.40 L670.40,655.48 L671.07,653.58 L671.77,651.69 L672.50,649.80 L673.24,647.96 L674.00,646.13 L674.78,644.31 L675.58,642.50 L676.40,640.70 L677.23,638.92 L678.07,637.15 L678.91,635.41 L679.76,633.69 L680.60,632.00 L681.38,630.45 L682.18,628.93 L682.97,627.43 L683.78,625.94 L684.59,624.47 L685.40,623.01 L686.22,621.57 L687.04,620.14 L687.87,618.71 L688.70,617.30 L689.49,615.97 L690.28,614.68 L691.07,613.41 L691.86,612.15 L692.65,610.90 L693.46,609.64 L694.27,608.37 L695.10,607.08 L695.94,605.76 L696.80,604.40 L697.82,602.79 L698.86,601.13 L699.92,599.45 L701.01,597.73 L702.10,596.00 L703.20,594.25 L704.31,592.51 L705.41,590.76 L706.51,589.02 L707.60,587.30" fill="none" stroke="#1e8cff" stroke-width="2.4" stroke-linejoin="round"/>
<path d="M473.10,587.90 L475.80,587.96 L478.50,588.01 L481.22,588.07 L483.93,588.12 L486.64,588.18 L489.35,588.23 L492.04,588.29 L494.71,588.36 L497.37,588.43 L500.00,588.50 L502.48,588.58 L504.96,588.66 L507.44,588.74 L509.90,588.83 L512.35,588.92 L514.78,589.01 L517.17,589.11 L519.53,589.21 L521.84,589.30 L524.10,589.40 L526.02,589.48 L527.92,589.55 L529.80,589.62 L531.65,589.69 L533.48,589.76 L535.27,589.84 L537.03,589.93 L538.76,590.03 L540.45,590.15 L542.10,590.30 L543.44,590.44 L544.75,590.59 L546.03,590.75 L547.28,590.92 L548.52,591.10 L549.73,591.29 L550.94,591.49 L552.13,591.69 L553.31,591.89 L554.50,592.10 L555.59,592.30 L556.66,592.49 L557.71,592.69 L558.76,592.90 L559.80,593.11 L560.83,593.33 L561.87,593.56 L562.91,593.80 L563.95,594.04 L565.00,594.30 L566.10,594.58 L567.22,594.88 L568.34,595.19 L569.47,595.51 L570.59,595.84 L571.71,596.17 L572.81,596.51 L573.90,596.84 L574.96,597.18 L576.00,597.50 L576.88,597.77 L577.75,598.03 L578.60,598.29 L579.44,598.54 L580.27,598.80 L581.09,599.07 L581.90,599.34 L582.70,599.64 L583.50,599.96 L584.30,600.30 L585.10,600.67 L585.89,601.07 L586.68,601.50 L587.46,601.93 L588.23,602.39 L589.00,602.85 L589.76,603.31 L590.51,603.78 L591.26,604.24 L592.00,604.70 L592.70,605.12 L593.40,605.54 L594.09,605.95 L594.78,606.37 L595.47,606.79 L596.14,607.21 L596.80,607.65 L597.45,608.11 L598.08,608.59 L598.70,609.10 L599.30,609.64 L599.88,610.20 L600.43,610.79 L600.98,611.39 L601.51,612.01 L602.04,612.64 L602.56,613.27 L603.10,613.92 L603.64,614.56 L604.20,615.20 L604.83,615.90 L605.48,616.61 L606.14,617.33 L606.81,618.06 L607.47,618.79 L608.13,619.53 L608.78,620.27 L609.42,621.01 L610.02,621.76 L610.60,622.50 L611.10,623.18 L611.57,623.83 L612.02,624.48 L612.46,625.12 L612.88,625.78 L613.30,626.45 L613.73,627.15 L614.17,627.89 L614.62,628.67 L615.10,629.50 L615.87,630.89 L616.71,632.46 L617.58,634.16 L618.49,635.94 L619.40,637.77 L620.29,639.61 L621.16,641.40 L621.98,643.11 L622.73,644.69 L623.40,646.10 L623.78,646.90 L624.12,647.63 L624.44,648.31 L624.74,648.95 L625.03,649.57 L625.31,650.20 L625.59,650.85 L625.87,651.54 L626.18,652.28 L626.50,653.10 L627.04,654.54 L627.62,656.15 L628.23,657.90 L628.85,659.75 L629.48,661.64 L630.10,663.54 L630.70,665.39 L631.28,667.17 L631.81,668.82 L632.30,670.30 L632.59,671.18 L632.86,671.98 L633.12,672.73 L633.36,673.44 L633.59,674.13 L633.82,674.83 L634.06,675.54 L634.29,676.30 L634.54,677.11 L634.80,678.00 L635.21,679.46 L635.63,681.01 L636.06,682.65 L636.50,684.37 L636.95,686.16 L637.41,688.01 L637.87,689.90 L638.34,691.84 L638.82,693.81 L639.30,695.80 L639.93,698.43 L640.59,701.21 L641.26,704.10 L641.95,707.07 L642.65,710.09 L643.34,713.13 L644.03,716.15 L644.71,719.12 L645.37,722.02 L646.00,724.80 L646.53,727.16 L647.05,729.46 L647.56,731.73 L648.06,733.97 L648.56,736.18 L649.05,738.38 L649.53,740.57 L650.02,742.77 L650.51,744.97 L651.00,747.20 L651.49,749.45 L651.99,751.74 L652.49,754.04 L652.98,756.34 L653.47,758.64 L653.97,760.91 L654.45,763.15 L654.94,765.33 L655.42,767.45 L655.90,769.50 L656.28,771.15 L656.64,772.80 L656.99,774.44 L657.33,776.05 L657.68,777.63 L658.03,779.14 L658.41,780.60 L658.80,781.96 L659.23,783.24 L659.70,784.40 L660.03,785.11 L660.38,785.80 L660.74,786.45 L661.11,787.07 L661.49,787.65 L661.87,788.20 L662.25,788.71 L662.64,789.18 L663.02,789.61 L663.40,790.00 L663.65,790.24 L663.90,790.48 L664.14,790.71 L664.39,790.93 L664.64,791.12 L664.89,791.29 L665.14,791.43 L665.39,791.53 L665.64,791.59 L665.90,791.60 L666.20,791.55 L666.52,791.43 L666.84,791.26 L667.16,791.04 L667.48,790.78 L667.80,790.48 L668.12,790.16 L668.42,789.81 L668.72,789.46 L669.00,789.10 L669.37,788.57 L669.71,788.00 L670.04,787.38 L670.35,786.72 L670.64,786.01 L670.93,785.27 L671.22,784.48 L671.51,783.66 L671.80,782.80 L672.10,781.90 L672.60,780.34 L673.09,778.61 L673.58,776.74 L674.08,774.77 L674.57,772.71 L675.06,770.60 L675.55,768.45 L676.03,766.30 L676.52,764.18 L677.00,762.10 L677.51,759.91 L678.03,757.69 L678.54,755.45 L679.05,753.19 L679.56,750.92 L680.07,748.65 L680.57,746.38 L681.05,744.13 L681.53,741.90 L682.00,739.70 L682.43,737.67 L682.84,735.70 L683.24,733.78 L683.64,731.87 L684.03,729.95 L684.41,728.01 L684.80,726.02 L685.19,723.95 L685.59,721.79 L686.00,719.50 L686.58,716.10 L687.17,712.43 L687.77,708.55 L688.38,704.53 L688.99,700.43 L689.60,696.29 L690.21,692.18 L690.81,688.15 L691.41,684.28 L692.00,680.60 L692.49,677.65 L692.97,674.77 L693.45,671.97 L693.93,669.21 L694.41,666.50 L694.88,663.81 L695.36,661.13 L695.84,658.44 L696.32,655.74 L696.80,653.00 L697.29,650.24 L697.78,647.47 L698.28,644.69 L698.78,641.92 L699.29,639.15 L699.78,636.38 L700.28,633.63 L700.76,630.90 L701.24,628.18 L701.70,625.50 L702.13,622.97 L702.56,620.42 L702.98,617.86 L703.39,615.31 L703.80,612.78 L704.21,610.29 L704.60,607.87 L704.98,605.51 L705.35,603.25 L705.70,601.10 L705.95,599.56 L706.20,598.09 L706.43,596.67 L706.66,595.30 L706.89,593.96 L707.11,592.63 L707.33,591.32 L707.55,590.00 L707.77,588.66 L708.00,587.30" fill="none" stroke="#ff7f0c" stroke-width="2.6" stroke-dasharray="16.8,9" stroke-linecap="round" stroke-dashoffset="0"/>
<rect x="471.6" y="584" width="238.1" height="211" fill="none" stroke="#000" stroke-width="3"/>
<line x1="459.8" y1="794.6" x2="471.6" y2="794.6" stroke="#000" stroke-width="3" />
<text x="458.5" y="799.9" font-size="16.5" fill="#111" text-anchor="end" font-weight="bold" >0</text>
<line x1="461.7" y1="773.77" x2="471.6" y2="773.77" stroke="#000" stroke-width="3" />
<line x1="459.8" y1="752.94" x2="471.6" y2="752.94" stroke="#000" stroke-width="3" />
<text x="458.5" y="758.24" font-size="16.5" fill="#111" text-anchor="end" font-weight="bold" >0.2</text>
<line x1="461.7" y1="732.11" x2="471.6" y2="732.11" stroke="#000" stroke-width="3" />
<line x1="459.8" y1="711.28" x2="471.6" y2="711.28" stroke="#000" stroke-width="3" />
<text x="458.5" y="716.58" font-size="16.5" fill="#111" text-anchor="end" font-weight="bold" >0.4</text>
<line x1="461.7" y1="690.45" x2="471.6" y2="690.45" stroke="#000" stroke-width="3" />
<line x1="459.8" y1="669.62" x2="471.6" y2="669.62" stroke="#000" stroke-width="3" />
<text x="458.5" y="674.92" font-size="16.5" fill="#111" text-anchor="end" font-weight="bold" >0.6</text>
<line x1="461.7" y1="648.79" x2="471.6" y2="648.79" stroke="#000" stroke-width="3" />
<line x1="459.8" y1="627.96" x2="471.6" y2="627.96" stroke="#000" stroke-width="3" />
<text x="458.5" y="633.26" font-size="16.5" fill="#111" text-anchor="end" font-weight="bold" >0.8</text>
<line x1="461.7" y1="607.13" x2="471.6" y2="607.13" stroke="#000" stroke-width="3" />
<line x1="459.8" y1="586.3" x2="471.6" y2="586.3" stroke="#000" stroke-width="3" />
<text x="458.5" y="591.6" font-size="16.5" fill="#111" text-anchor="end" font-weight="bold" >1</text>
<line x1="471.3" y1="795" x2="471.3" y2="803.8" stroke="#000" stroke-width="3" />
<text x="471.3" y="819" font-size="16.5" fill="#111" text-anchor="middle" font-weight="bold" >70</text>
<line x1="501" y1="795" x2="501" y2="802" stroke="#000" stroke-width="3" />
<line x1="531.3" y1="795" x2="531.3" y2="803.8" stroke="#000" stroke-width="3" />
<text x="531.3" y="819" font-size="16.5" fill="#111" text-anchor="middle" font-weight="bold" >75</text>
<line x1="560.5" y1="795" x2="560.5" y2="802" stroke="#000" stroke-width="3" />
<line x1="589.8" y1="795" x2="589.8" y2="803.8" stroke="#000" stroke-width="3" />
<text x="589.8" y="819" font-size="16.5" fill="#111" text-anchor="middle" font-weight="bold" >80</text>
<line x1="619.6" y1="795" x2="619.6" y2="802" stroke="#000" stroke-width="3" />
<line x1="649.4" y1="795" x2="649.4" y2="803.8" stroke="#000" stroke-width="3" />
<text x="649.4" y="819" font-size="16.5" fill="#111" text-anchor="middle" font-weight="bold" >85</text>
<line x1="679.2" y1="795" x2="679.2" y2="802" stroke="#000" stroke-width="3" />
<line x1="709.3" y1="795" x2="709.3" y2="803.8" stroke="#000" stroke-width="3" />
<text x="709.3" y="819" font-size="16.5" fill="#111" text-anchor="middle" font-weight="bold" >90</text>
<text x="588.7" y="837.5" font-size="16.4" fill="#111" text-anchor="middle" font-weight="bold" >Incident angle (deg)</text>
<text x="579" y="854.7" font-size="14.5" fill="#111" text-anchor="middle" font-weight="bold" >(f)</text>
<text x="433" y="691.5" font-size="16.5" fill="#111" font-weight="bold" text-anchor="middle" transform="rotate(-90 433 691.5)">Reflectance (R<tspan font-size="11" dy="4">p</tspan><tspan dy="-4">)</tspan></text>
<rect x="472.9" y="764.4" width="56.6" height="31" fill="none" stroke="#333" stroke-width="0.8"/>
<line x1="477.7" y1="771.1" x2="491.7" y2="771.1" stroke="#1e8cff" stroke-width="2.6" />
<line x1="477.7" y1="788.1" x2="491.7" y2="788.1" stroke="#ff7f0c" stroke-width="2.6" />
<text x="491.2" y="775.4" font-size="15.2" fill="#111" text-anchor="start" font-weight="normal" >1.33</text>
<text x="491.2" y="792.4" font-size="15.2" fill="#111" text-anchor="start" font-weight="normal" >1.335</text>
<text x="505.3" y="751" font-size="14" fill="#111" font-weight="bold">FOM = 113.8RIU<tspan font-size="9.5" dy="-5">−1</tspan></text>
<text x="538.8" y="773" font-size="14" fill="#111" font-weight="bold">S<tspan font-size="10" dy="2.5" font-weight="bold">n</tspan><tspan dy="-2.5"> = 486°/RIU</tspan></text>
<text x="566.7" y="789.5" font-size="14" fill="#111" font-weight="bold">δθ = 2.43°</text>
<defs></defs>
<polygon points="517.1,34.4 479,94.3 555.5,94.3" fill="url(#prismg)" stroke="#8a9090" stroke-width="1"/>
<line x1="517.1" y1="34.4" x2="517.1" y2="58.96" stroke="#333" stroke-width="1.2" />
<line x1="517.1" y1="79.32" x2="517.1" y2="92.3" stroke="#333" stroke-width="1.2" />
<line x1="498.3" y1="64.35" x2="517.1" y2="93.1" stroke="#e81010" stroke-width="1.2" />
<line x1="517.1" y1="93.1" x2="535.6" y2="64.95" stroke="#e81010" stroke-width="1.2" />
<polygon points="517.1,93.1 512.52,90.12 516.2,87.71" fill="#e81010"/>
<polygon points="535.6,64.95 534.69,70.34 531.02,67.92" fill="#e81010"/>
<text x="515.6" y="72.74" font-size="10.8" fill="#222" text-anchor="middle" font-weight="bold" >BK7</text>
<text x="502.3" y="89.51" font-size="10.5" fill="#111" font-family="Liberation Sans, sans-serif" font-weight="bold" text-anchor="middle">θ</text>
<rect x="479" y="94.3" width="76.5" height="17.4" fill="#f5833a"/>
<rect x="479.5" y="111.7" width="75.5" height="15.5" fill="#a3a3a3"/>
<rect x="479.5" y="127.2" width="75.5" height="14.9" fill="#18a8e8"/>
<text x="517.25" y="106.6" font-size="10.2" fill="#2a1a0a" text-anchor="middle" font-weight="bold" >Cu (55nm)</text>
<text x="517.25" y="122.95" font-size="10" fill="#222" font-weight="bold" text-anchor="middle">BaTiO<tspan font-size="7" dy="2">3</tspan><tspan dy="-2">(5nm)</tspan></text>
<text x="517.25" y="138.15" font-size="10" fill="#0a2a4a" font-weight="normal" text-anchor="middle" textLength="60" lengthAdjust="spacingAndGlyphs">Sensing medium</text>
<defs></defs>
<polygon points="665.5,311.7 627.2,371 704.3,371" fill="url(#prismg)" stroke="#8a9090" stroke-width="1"/>
<line x1="665.5" y1="311.7" x2="665.5" y2="336.01" stroke="#333" stroke-width="1.2" />
<line x1="665.5" y1="356.18" x2="665.5" y2="369" stroke="#333" stroke-width="1.2" />
<line x1="646.7" y1="341.35" x2="665.5" y2="369.8" stroke="#e81010" stroke-width="1.2" />
<line x1="665.5" y1="369.8" x2="684" y2="341.94" stroke="#e81010" stroke-width="1.2" />
<polygon points="665.5,369.8 660.91,366.84 664.58,364.42" fill="#e81010"/>
<polygon points="684,341.94 683.07,347.33 679.4,344.89" fill="#e81010"/>
<text x="664" y="349.65" font-size="10.8" fill="#222" text-anchor="middle" font-weight="bold" >BK7</text>
<text x="650.7" y="366.26" font-size="10.5" fill="#111" font-family="Liberation Sans, sans-serif" font-weight="bold" text-anchor="middle">θ</text>
<rect x="627.2" y="371" width="77.1" height="18.3" fill="#f5833a"/>
<rect x="627.7" y="389.3" width="76.1" height="15" fill="#a3a3a3"/>
<rect x="627.7" y="404.3" width="76.1" height="15" fill="#18a8e8"/>
<text x="665.75" y="383.75" font-size="10.2" fill="#2a1a0a" text-anchor="middle" font-weight="bold" >Cu (55nm)</text>
<text x="665.75" y="400.3" font-size="10" fill="#222" font-weight="bold" text-anchor="middle">BaTiO<tspan font-size="7" dy="2">3</tspan><tspan dy="-2">(10nm)</tspan></text>
<text x="665.75" y="415.3" font-size="10" fill="#0a2a4a" font-weight="normal" text-anchor="middle" textLength="60" lengthAdjust="spacingAndGlyphs">Sensing medium</text>
<defs></defs>
<polygon points="516.2,596 478,654.9 553.7,654.9" fill="url(#prismg)" stroke="#8a9090" stroke-width="1"/>
<line x1="516.2" y1="596" x2="516.2" y2="620.15" stroke="#333" stroke-width="1.2" />
<line x1="516.2" y1="640.17" x2="516.2" y2="652.9" stroke="#333" stroke-width="1.2" />
<line x1="497.4" y1="625.45" x2="516.2" y2="653.7" stroke="#e81010" stroke-width="1.2" />
<line x1="516.2" y1="653.7" x2="534.7" y2="626.04" stroke="#e81010" stroke-width="1.2" />
<polygon points="516.2,653.7 511.6,650.76 515.26,648.32" fill="#e81010"/>
<polygon points="534.7,626.04 533.75,631.42 530.09,628.97" fill="#e81010"/>
<text x="514.7" y="633.7" font-size="10.8" fill="#222" text-anchor="middle" font-weight="bold" >BK7</text>
<text x="501.4" y="650.19" font-size="10.5" fill="#111" font-family="Liberation Sans, sans-serif" font-weight="bold" text-anchor="middle">θ</text>
<rect x="478" y="654.9" width="75.7" height="18.3" fill="#f5833a"/>
<rect x="478.5" y="673.2" width="74.7" height="15.5" fill="#a3a3a3"/>
<rect x="478.5" y="688.7" width="74.7" height="14.3" fill="#18a8e8"/>
<text x="515.85" y="667.65" font-size="10.2" fill="#2a1a0a" text-anchor="middle" font-weight="bold" >Cu (45nm)</text>
<text x="515.85" y="684.45" font-size="10" fill="#222" font-weight="bold" text-anchor="middle">BaTiO<tspan font-size="7" dy="2">3</tspan><tspan dy="-2">(15nm)</tspan></text>
<text x="515.85" y="699.35" font-size="10" fill="#0a2a4a" font-weight="normal" text-anchor="middle" textLength="60" lengthAdjust="spacingAndGlyphs">Sensing medium</text>
<line x1="478" y1="707.4" x2="552.7" y2="707.4" stroke="#4ab8f0" stroke-width="1" />
<line x1="637" y1="773.5" x2="637" y2="795" stroke="#000" stroke-width="2.5" />
<path d="M641,787.5 L656.5,787.5 M644.5,784.6 L641,787.5 L644.5,790.4 M653,784.6 L656.5,787.5 L653,790.4" stroke="#111" stroke-width="1.3" fill="none"/>
<line x1="665.8" y1="791" x2="665.8" y2="795" stroke="#000" stroke-width="2.5" />
</svg>
</body></html>
